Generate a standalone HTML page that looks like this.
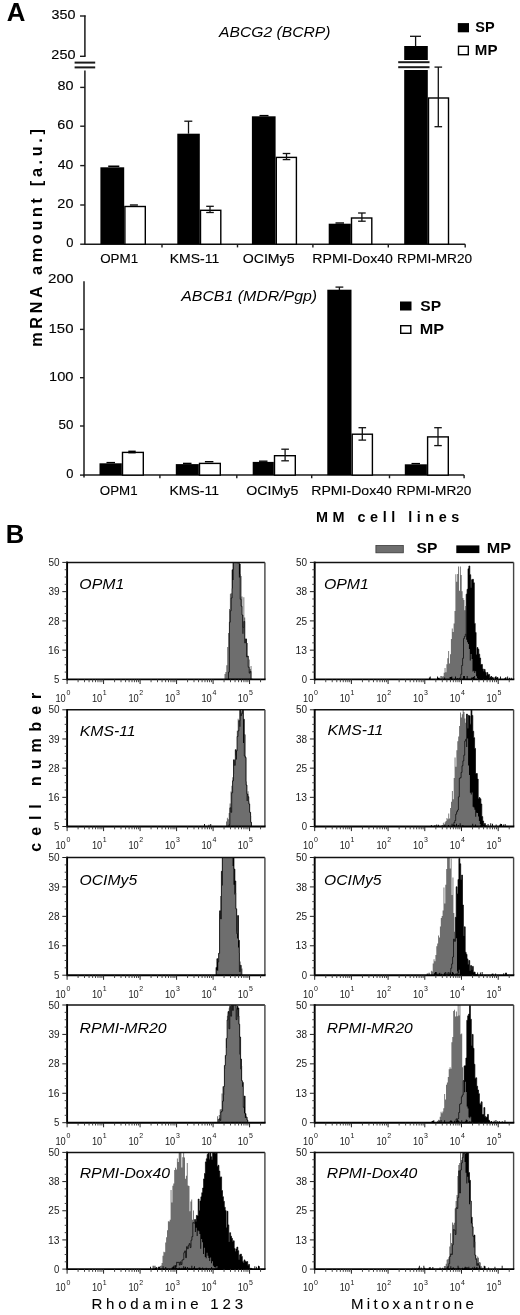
<!DOCTYPE html>
<html><head><meta charset="utf-8"><style>
html,body{margin:0;padding:0;background:#fff;}
svg{display:block;filter:grayscale(1);}
text{font-family:"Liberation Sans",sans-serif;}
</style></head><body>
<svg width="520" height="1315" viewBox="0 0 520 1315">
<rect width="520" height="1315" fill="#fff"/>
<text x="6.65" y="20.60" font-size="26" font-weight="bold" font-style="normal" textLength="18.65" lengthAdjust="spacingAndGlyphs" fill="#000" >A</text>
<line x1="84.90" y1="15.60" x2="84.90" y2="56.30" stroke="#1a1a1a" stroke-width="1.5" />
<line x1="80.00" y1="16.00" x2="85.60" y2="16.00" stroke="#1a1a1a" stroke-width="1.4" />
<line x1="80.00" y1="56.30" x2="85.60" y2="56.30" stroke="#1a1a1a" stroke-width="1.4" />
<line x1="74.60" y1="62.60" x2="95.20" y2="62.60" stroke="#1a1a1a" stroke-width="2.0" />
<line x1="74.60" y1="67.40" x2="95.20" y2="67.40" stroke="#1a1a1a" stroke-width="2.0" />
<line x1="84.90" y1="70.60" x2="84.90" y2="244.20" stroke="#1a1a1a" stroke-width="1.5" />
<line x1="80.20" y1="87.40" x2="84.90" y2="87.40" stroke="#1a1a1a" stroke-width="1.4" />
<line x1="80.20" y1="126.20" x2="84.90" y2="126.20" stroke="#1a1a1a" stroke-width="1.4" />
<line x1="80.20" y1="165.60" x2="84.90" y2="165.60" stroke="#1a1a1a" stroke-width="1.4" />
<line x1="80.20" y1="205.00" x2="84.90" y2="205.00" stroke="#1a1a1a" stroke-width="1.4" />
<line x1="80.20" y1="244.20" x2="84.90" y2="244.20" stroke="#1a1a1a" stroke-width="1.4" />
<line x1="84.20" y1="244.20" x2="465.20" y2="244.20" stroke="#1a1a1a" stroke-width="1.5" />
<line x1="162.00" y1="244.20" x2="162.00" y2="247.40" stroke="#1a1a1a" stroke-width="1.4" />
<line x1="237.50" y1="244.20" x2="237.50" y2="247.40" stroke="#1a1a1a" stroke-width="1.4" />
<line x1="312.90" y1="244.20" x2="312.90" y2="247.40" stroke="#1a1a1a" stroke-width="1.4" />
<line x1="388.30" y1="244.20" x2="388.30" y2="247.40" stroke="#1a1a1a" stroke-width="1.4" />
<line x1="465.20" y1="244.20" x2="465.20" y2="247.40" stroke="#1a1a1a" stroke-width="1.4" />
<text x="51.53" y="19.00" font-size="12.3" font-weight="normal" font-style="normal" textLength="23.93" lengthAdjust="spacingAndGlyphs" fill="#000" stroke="#000" stroke-width="0.12">350</text>
<text x="51.38" y="59.30" font-size="12.3" font-weight="normal" font-style="normal" textLength="24.08" lengthAdjust="spacingAndGlyphs" fill="#000" stroke="#000" stroke-width="0.12">250</text>
<text x="57.45" y="90.40" font-size="12.3" font-weight="normal" font-style="normal" textLength="15.98" lengthAdjust="spacingAndGlyphs" fill="#000" stroke="#000" stroke-width="0.12">80</text>
<text x="57.38" y="129.20" font-size="12.3" font-weight="normal" font-style="normal" textLength="16.06" lengthAdjust="spacingAndGlyphs" fill="#000" stroke="#000" stroke-width="0.12">60</text>
<text x="57.82" y="168.60" font-size="12.3" font-weight="normal" font-style="normal" textLength="15.60" lengthAdjust="spacingAndGlyphs" fill="#000" stroke="#000" stroke-width="0.12">40</text>
<text x="57.38" y="208.00" font-size="12.3" font-weight="normal" font-style="normal" textLength="16.06" lengthAdjust="spacingAndGlyphs" fill="#000" stroke="#000" stroke-width="0.12">20</text>
<text x="66.18" y="247.20" font-size="12.3" font-weight="normal" font-style="normal" textLength="7.18" lengthAdjust="spacingAndGlyphs" fill="#000" stroke="#000" stroke-width="0.12">0</text>
<text x="100.20" y="262.90" font-size="12.6" font-weight="normal" font-style="normal" textLength="37.89" lengthAdjust="spacingAndGlyphs" fill="#000" stroke="#000" stroke-width="0.12">OPM1</text>
<text x="169.68" y="262.90" font-size="12.6" font-weight="normal" font-style="normal" textLength="49.49" lengthAdjust="spacingAndGlyphs" fill="#000" stroke="#000" stroke-width="0.12">KMS-11</text>
<text x="242.66" y="262.90" font-size="12.6" font-weight="normal" font-style="normal" textLength="51.93" lengthAdjust="spacingAndGlyphs" fill="#000" stroke="#000" stroke-width="0.12">OCIMy5</text>
<text x="312.37" y="262.90" font-size="12.6" font-weight="normal" font-style="normal" textLength="80.50" lengthAdjust="spacingAndGlyphs" fill="#000" stroke="#000" stroke-width="0.12">RPMI-Dox40</text>
<text x="397.11" y="262.90" font-size="12.6" font-weight="normal" font-style="normal" textLength="74.98" lengthAdjust="spacingAndGlyphs" fill="#000" stroke="#000" stroke-width="0.12">RPMI-MR20</text>
<rect x="100.40" y="167.30" width="23.80" height="76.90" fill="#000" stroke="none" stroke-width="0"/>
<rect x="124.90" y="206.50" width="20.40" height="37.70" fill="#fff" stroke="#000" stroke-width="1.4"/>
<line x1="108.20" y1="166.30" x2="119.30" y2="166.30" stroke="#000" stroke-width="1.6" />
<line x1="129.90" y1="205.00" x2="137.90" y2="205.00" stroke="#111" stroke-width="1.4" />
<rect x="177.30" y="133.70" width="22.50" height="110.50" fill="#000" stroke="none" stroke-width="0"/>
<rect x="200.50" y="210.30" width="20.30" height="33.90" fill="#fff" stroke="#000" stroke-width="1.4"/>
<line x1="188.50" y1="121.20" x2="188.50" y2="133.70" stroke="#111" stroke-width="1.3" />
<line x1="184.30" y1="121.20" x2="192.30" y2="121.20" stroke="#111" stroke-width="1.3" />
<line x1="210.00" y1="206.30" x2="210.00" y2="212.50" stroke="#111" stroke-width="1.3" />
<line x1="206.20" y1="206.30" x2="213.80" y2="206.30" stroke="#111" stroke-width="1.3" />
<line x1="206.20" y1="212.50" x2="213.80" y2="212.50" stroke="#111" stroke-width="1.3" />
<rect x="251.90" y="116.30" width="23.70" height="127.90" fill="#000" stroke="none" stroke-width="0"/>
<rect x="276.30" y="157.40" width="20.10" height="86.80" fill="#fff" stroke="#000" stroke-width="1.4"/>
<line x1="259.50" y1="115.60" x2="268.50" y2="115.60" stroke="#000" stroke-width="1.4" />
<line x1="286.50" y1="153.50" x2="286.50" y2="159.60" stroke="#111" stroke-width="1.3" />
<line x1="282.70" y1="153.50" x2="290.30" y2="153.50" stroke="#111" stroke-width="1.3" />
<line x1="282.70" y1="159.60" x2="290.30" y2="159.60" stroke="#111" stroke-width="1.3" />
<rect x="328.70" y="223.70" width="22.10" height="20.50" fill="#000" stroke="none" stroke-width="0"/>
<rect x="351.50" y="218.00" width="20.30" height="26.20" fill="#fff" stroke="#000" stroke-width="1.4"/>
<line x1="335.50" y1="223.00" x2="344.00" y2="223.00" stroke="#000" stroke-width="1.4" />
<line x1="361.90" y1="213.00" x2="361.90" y2="221.20" stroke="#111" stroke-width="1.3" />
<line x1="358.10" y1="213.00" x2="365.70" y2="213.00" stroke="#111" stroke-width="1.3" />
<line x1="358.10" y1="221.20" x2="365.70" y2="221.20" stroke="#111" stroke-width="1.3" />
<rect x="404.20" y="46.00" width="23.60" height="14.00" fill="#000" stroke="none" stroke-width="0"/>
<rect x="404.20" y="70.00" width="23.60" height="174.20" fill="#000" stroke="none" stroke-width="0"/>
<line x1="398.20" y1="62.20" x2="429.50" y2="62.20" stroke="#1a1a1a" stroke-width="2.0" />
<line x1="398.20" y1="67.20" x2="429.50" y2="67.20" stroke="#1a1a1a" stroke-width="2.0" />
<line x1="415.60" y1="36.30" x2="415.60" y2="46.50" stroke="#111" stroke-width="1.3" />
<line x1="410.00" y1="36.30" x2="421.00" y2="36.30" stroke="#111" stroke-width="1.3" />
<rect x="428.50" y="98.00" width="20.00" height="146.20" fill="#fff" stroke="#000" stroke-width="1.4"/>
<line x1="438.30" y1="67.10" x2="438.30" y2="126.70" stroke="#111" stroke-width="1.3" />
<line x1="434.50" y1="67.10" x2="442.10" y2="67.10" stroke="#111" stroke-width="1.3" />
<line x1="434.50" y1="126.70" x2="442.10" y2="126.70" stroke="#111" stroke-width="1.3" />
<text x="219.08" y="36.60" font-size="14.6" font-weight="normal" font-style="italic" textLength="111.32" lengthAdjust="spacingAndGlyphs" fill="#000" >ABCG2 (BCRP)</text>
<rect x="457.80" y="23.10" width="11.20" height="9.20" fill="#000" stroke="none" stroke-width="0"/>
<rect x="458.50" y="46.30" width="9.80" height="8.40" fill="#fff" stroke="#000" stroke-width="1.4"/>
<text x="475.37" y="32.30" font-size="14" font-weight="bold" font-style="normal" textLength="19.33" lengthAdjust="spacingAndGlyphs" fill="#000" >SP</text>
<text x="474.82" y="55.40" font-size="14" font-weight="bold" font-style="normal" textLength="22.63" lengthAdjust="spacingAndGlyphs" fill="#000" >MP</text>
<line x1="84.00" y1="281.20" x2="84.00" y2="477.50" stroke="#1a1a1a" stroke-width="1.5" />
<line x1="80.00" y1="329.40" x2="84.00" y2="329.40" stroke="#1a1a1a" stroke-width="1.4" />
<line x1="80.00" y1="377.70" x2="84.00" y2="377.70" stroke="#1a1a1a" stroke-width="1.4" />
<line x1="80.00" y1="426.00" x2="84.00" y2="426.00" stroke="#1a1a1a" stroke-width="1.4" />
<line x1="80.00" y1="475.10" x2="84.00" y2="475.10" stroke="#1a1a1a" stroke-width="1.4" />
<line x1="83.30" y1="475.10" x2="464.10" y2="475.10" stroke="#1a1a1a" stroke-width="1.5" />
<line x1="159.90" y1="475.10" x2="159.90" y2="478.30" stroke="#1a1a1a" stroke-width="1.4" />
<line x1="236.80" y1="475.10" x2="236.80" y2="478.30" stroke="#1a1a1a" stroke-width="1.4" />
<line x1="311.70" y1="475.10" x2="311.70" y2="478.30" stroke="#1a1a1a" stroke-width="1.4" />
<line x1="389.50" y1="475.10" x2="389.50" y2="478.30" stroke="#1a1a1a" stroke-width="1.4" />
<line x1="464.10" y1="475.10" x2="464.10" y2="478.30" stroke="#1a1a1a" stroke-width="1.4" />
<text x="48.14" y="283.40" font-size="12.3" font-weight="normal" font-style="normal" textLength="25.34" lengthAdjust="spacingAndGlyphs" fill="#000" stroke="#000" stroke-width="0.12">200</text>
<text x="48.58" y="332.50" font-size="12.3" font-weight="normal" font-style="normal" textLength="24.89" lengthAdjust="spacingAndGlyphs" fill="#000" stroke="#000" stroke-width="0.12">150</text>
<text x="49.00" y="380.80" font-size="12.3" font-weight="normal" font-style="normal" textLength="24.46" lengthAdjust="spacingAndGlyphs" fill="#000" stroke="#000" stroke-width="0.12">100</text>
<text x="58.57" y="429.10" font-size="12.3" font-weight="normal" font-style="normal" textLength="14.83" lengthAdjust="spacingAndGlyphs" fill="#000" stroke="#000" stroke-width="0.12">50</text>
<text x="66.18" y="478.20" font-size="12.3" font-weight="normal" font-style="normal" textLength="7.18" lengthAdjust="spacingAndGlyphs" fill="#000" stroke="#000" stroke-width="0.12">0</text>
<text x="99.80" y="494.60" font-size="12.6" font-weight="normal" font-style="normal" textLength="37.79" lengthAdjust="spacingAndGlyphs" fill="#000" stroke="#000" stroke-width="0.12">OPM1</text>
<text x="169.48" y="494.60" font-size="12.6" font-weight="normal" font-style="normal" textLength="49.49" lengthAdjust="spacingAndGlyphs" fill="#000" stroke="#000" stroke-width="0.12">KMS-11</text>
<text x="246.36" y="494.60" font-size="12.6" font-weight="normal" font-style="normal" textLength="51.93" lengthAdjust="spacingAndGlyphs" fill="#000" stroke="#000" stroke-width="0.12">OCIMy5</text>
<text x="311.27" y="494.60" font-size="12.6" font-weight="normal" font-style="normal" textLength="80.60" lengthAdjust="spacingAndGlyphs" fill="#000" stroke="#000" stroke-width="0.12">RPMI-Dox40</text>
<text x="396.61" y="494.60" font-size="12.6" font-weight="normal" font-style="normal" textLength="74.77" lengthAdjust="spacingAndGlyphs" fill="#000" stroke="#000" stroke-width="0.12">RPMI-MR20</text>
<rect x="99.50" y="463.30" width="22.30" height="11.80" fill="#000" stroke="none" stroke-width="0"/>
<rect x="122.50" y="452.40" width="20.80" height="22.70" fill="#fff" stroke="#000" stroke-width="1.4"/>
<line x1="106.50" y1="462.60" x2="115.00" y2="462.60" stroke="#000" stroke-width="1.4" />
<rect x="128.30" y="450.60" width="7.40" height="2.80" fill="#000" stroke="none" stroke-width="0"/>
<rect x="175.80" y="464.10" width="23.00" height="11.00" fill="#000" stroke="none" stroke-width="0"/>
<rect x="199.50" y="463.40" width="20.80" height="11.70" fill="#fff" stroke="#000" stroke-width="1.4"/>
<line x1="183.00" y1="463.40" x2="191.50" y2="463.40" stroke="#000" stroke-width="1.4" />
<line x1="204.90" y1="461.70" x2="213.40" y2="461.70" stroke="#000" stroke-width="1.4" />
<rect x="252.70" y="461.90" width="21.10" height="13.20" fill="#000" stroke="none" stroke-width="0"/>
<rect x="274.50" y="455.70" width="20.80" height="19.40" fill="#fff" stroke="#000" stroke-width="1.4"/>
<line x1="259.00" y1="461.20" x2="267.50" y2="461.20" stroke="#000" stroke-width="1.4" />
<line x1="285.10" y1="449.20" x2="285.10" y2="460.80" stroke="#111" stroke-width="1.3" />
<line x1="281.30" y1="449.20" x2="288.90" y2="449.20" stroke="#111" stroke-width="1.3" />
<line x1="281.30" y1="460.80" x2="288.90" y2="460.80" stroke="#111" stroke-width="1.3" />
<rect x="327.30" y="289.70" width="24.20" height="185.40" fill="#000" stroke="none" stroke-width="0"/>
<rect x="352.20" y="434.20" width="20.20" height="40.90" fill="#fff" stroke="#000" stroke-width="1.4"/>
<line x1="339.40" y1="287.10" x2="339.40" y2="290.00" stroke="#111" stroke-width="1.3" />
<line x1="335.50" y1="287.10" x2="343.30" y2="287.10" stroke="#111" stroke-width="1.3" />
<line x1="362.30" y1="427.70" x2="362.30" y2="440.10" stroke="#111" stroke-width="1.3" />
<line x1="358.50" y1="427.70" x2="366.10" y2="427.70" stroke="#111" stroke-width="1.3" />
<line x1="358.50" y1="440.10" x2="366.10" y2="440.10" stroke="#111" stroke-width="1.3" />
<rect x="404.80" y="464.30" width="22.10" height="10.80" fill="#000" stroke="none" stroke-width="0"/>
<rect x="427.60" y="436.90" width="20.70" height="38.20" fill="#fff" stroke="#000" stroke-width="1.4"/>
<line x1="411.50" y1="463.60" x2="420.00" y2="463.60" stroke="#000" stroke-width="1.4" />
<line x1="438.00" y1="427.70" x2="438.00" y2="445.60" stroke="#111" stroke-width="1.3" />
<line x1="434.20" y1="427.70" x2="441.80" y2="427.70" stroke="#111" stroke-width="1.3" />
<line x1="434.20" y1="445.60" x2="441.80" y2="445.60" stroke="#111" stroke-width="1.3" />
<text x="181.19" y="300.80" font-size="14.6" font-weight="normal" font-style="italic" textLength="135.93" lengthAdjust="spacingAndGlyphs" fill="#000" >ABCB1 (MDR/Pgp)</text>
<rect x="400.00" y="301.50" width="11.50" height="9.00" fill="#000" stroke="none" stroke-width="0"/>
<rect x="400.70" y="325.70" width="10.10" height="7.60" fill="#fff" stroke="#000" stroke-width="1.4"/>
<text x="420.33" y="310.80" font-size="14" font-weight="bold" font-style="normal" textLength="20.80" lengthAdjust="spacingAndGlyphs" fill="#000" >SP</text>
<text x="419.75" y="334.40" font-size="14" font-weight="bold" font-style="normal" textLength="24.34" lengthAdjust="spacingAndGlyphs" fill="#000" >MP</text>
<text transform="translate(41.80,346.85) rotate(-90)" x="0" y="0" font-size="16.2" font-weight="bold" font-style="normal" textLength="217.81" lengthAdjust="spacing" fill="#000">mRNA amount [a.u.]</text>
<text x="315.96" y="522.40" font-size="14.4" font-weight="bold" font-style="normal" textLength="143.26" lengthAdjust="spacing" fill="#000" >MM cell lines</text>
<text x="5.84" y="543.10" font-size="26" font-weight="bold" font-style="normal" textLength="18.47" lengthAdjust="spacingAndGlyphs" fill="#000" >B</text>
<rect x="375.9" y="545.5" width="27.4" height="7.3" fill="#6e6e6e" stroke="#3a3a3a" stroke-width="0.8"/>
<text x="416.53" y="553.30" font-size="14" font-weight="bold" font-style="normal" textLength="20.80" lengthAdjust="spacingAndGlyphs" fill="#000" >SP</text>
<rect x="456.30" y="545.40" width="23.10" height="7.70" fill="#000" stroke="none" stroke-width="0"/>
<text x="486.75" y="553.40" font-size="14" font-weight="bold" font-style="normal" textLength="24.34" lengthAdjust="spacingAndGlyphs" fill="#000" >MP</text>
<clipPath id="cL0"><rect x="67.1" y="562.4" width="197.79999999999998" height="117.0"/></clipPath>
<g clip-path="url(#cL0)">
<path d="M228.5,679.4V672.1H229.4V622.2H230.3V610.8H231.2V598.0H232.1V569.8H233.0V560.4H233.9V560.4H234.8V560.4H235.7V560.4H236.6V560.4H237.5V562.9H238.4V560.4H239.3V564.0H240.2V599.2H241.1V606.2H242.0V615.0H242.9V627.4H243.8V621.5H244.7V642.9H245.6V638.9H246.5V656.9H247.4V656.1H248.3V667.3H249.2V673.1H250.1V671.3H251.0V679.4Z" fill="#000"/>
<path d="M224.5,679.4V673.9H225.4V672.1H226.3V665.3H227.2V647.0H228.1V633.1H229.0V608.9H229.9V593.7H230.8V593.2H231.7V588.4H232.6V579.9H233.5V560.4H234.4V560.4H235.3V560.4H236.2V560.4H237.1V560.4H238.0V560.4H238.9V577.5H239.8V574.2H240.7V575.9H241.6V596.6H242.5V633.7H243.4V597.3H244.3V617.5H245.2V638.7H246.1V653.4H247.0V643.0H247.9V666.5H248.8V659.5H249.7V669.1H250.6V666.0H251.5V678.5H252.4V679.4H253.3V679.4Z" fill="#6e6e6e"/>
<path d="M228.5,679.4V672.1H229.4V622.2H230.3V610.8H231.2V598.0H232.1V569.8H233.0V560.4H233.9V560.4H234.8V560.4H235.7V560.4H236.6V560.4H237.5V562.9H238.4V560.4H239.3V564.0H240.2V599.2H241.1V606.2H242.0V615.0H242.9V627.4H243.8V621.5H244.7V642.9H245.6V638.9H246.5V656.9H247.4V656.1H248.3V667.3H249.2V673.1H250.1V671.3H251.0V679.4Z" fill="none" stroke="#000" stroke-width="0.7"/>
</g>
<line x1="66.15" y1="562.40" x2="264.90" y2="562.40" stroke="#111" stroke-width="1.5" />
<line x1="264.90" y1="562.40" x2="264.90" y2="679.40" stroke="#444" stroke-width="1.4" />
<line x1="67.10" y1="561.65" x2="67.10" y2="680.35" stroke="#000" stroke-width="1.9" />
<line x1="67.10" y1="679.40" x2="265.60" y2="679.40" stroke="#000" stroke-width="1.9" />
<line x1="62.30" y1="562.40" x2="67.10" y2="562.40" stroke="#222" stroke-width="1.0" />
<text x="48.40" y="566.00" font-size="10.8" font-weight="normal" font-style="normal" textLength="11.07" lengthAdjust="spacingAndGlyphs" fill="#1a1a1a" >50</text>
<line x1="64.70" y1="569.71" x2="67.10" y2="569.71" stroke="#333" stroke-width="0.9" />
<line x1="64.70" y1="577.02" x2="67.10" y2="577.02" stroke="#333" stroke-width="0.9" />
<line x1="64.70" y1="584.34" x2="67.10" y2="584.34" stroke="#333" stroke-width="0.9" />
<line x1="62.30" y1="591.65" x2="67.10" y2="591.65" stroke="#222" stroke-width="1.0" />
<text x="48.40" y="595.25" font-size="10.8" font-weight="normal" font-style="normal" textLength="11.18" lengthAdjust="spacingAndGlyphs" fill="#1a1a1a" >39</text>
<line x1="64.70" y1="598.96" x2="67.10" y2="598.96" stroke="#333" stroke-width="0.9" />
<line x1="64.70" y1="606.27" x2="67.10" y2="606.27" stroke="#333" stroke-width="0.9" />
<line x1="64.70" y1="613.59" x2="67.10" y2="613.59" stroke="#333" stroke-width="0.9" />
<line x1="62.30" y1="620.90" x2="67.10" y2="620.90" stroke="#222" stroke-width="1.0" />
<text x="48.30" y="624.50" font-size="10.8" font-weight="normal" font-style="normal" textLength="11.23" lengthAdjust="spacingAndGlyphs" fill="#1a1a1a" >28</text>
<line x1="64.70" y1="628.21" x2="67.10" y2="628.21" stroke="#333" stroke-width="0.9" />
<line x1="64.70" y1="635.52" x2="67.10" y2="635.52" stroke="#333" stroke-width="0.9" />
<line x1="64.70" y1="642.84" x2="67.10" y2="642.84" stroke="#333" stroke-width="0.9" />
<line x1="62.30" y1="650.15" x2="67.10" y2="650.15" stroke="#222" stroke-width="1.0" />
<text x="48.02" y="653.75" font-size="10.8" font-weight="normal" font-style="normal" textLength="11.51" lengthAdjust="spacingAndGlyphs" fill="#1a1a1a" >16</text>
<line x1="64.70" y1="657.46" x2="67.10" y2="657.46" stroke="#333" stroke-width="0.9" />
<line x1="64.70" y1="664.77" x2="67.10" y2="664.77" stroke="#333" stroke-width="0.9" />
<line x1="64.70" y1="672.09" x2="67.10" y2="672.09" stroke="#333" stroke-width="0.9" />
<line x1="62.30" y1="679.40" x2="67.10" y2="679.40" stroke="#222" stroke-width="1.0" />
<text x="54.11" y="683.00" font-size="10.8" font-weight="normal" font-style="normal" textLength="5.39" lengthAdjust="spacingAndGlyphs" fill="#1a1a1a" >5</text>
<line x1="67.10" y1="679.40" x2="67.10" y2="684.00" stroke="#222" stroke-width="1.0" />
<text x="55.40" y="701.70" font-size="11.2" font-weight="normal" font-style="normal" textLength="10.34" lengthAdjust="spacingAndGlyphs" fill="#1a1a1a" >10</text>
<text x="66.42" y="695.00" font-size="7.8" font-weight="normal" font-style="normal" textLength="3.90" lengthAdjust="spacingAndGlyphs" fill="#1a1a1a" >0</text>
<line x1="78.09" y1="679.40" x2="78.09" y2="682.20" stroke="#333" stroke-width="0.9" />
<line x1="84.51" y1="679.40" x2="84.51" y2="682.20" stroke="#333" stroke-width="0.9" />
<line x1="89.07" y1="679.40" x2="89.07" y2="682.20" stroke="#333" stroke-width="0.9" />
<line x1="92.61" y1="679.40" x2="92.61" y2="682.20" stroke="#333" stroke-width="0.9" />
<line x1="95.50" y1="679.40" x2="95.50" y2="682.20" stroke="#333" stroke-width="0.9" />
<line x1="97.94" y1="679.40" x2="97.94" y2="682.20" stroke="#333" stroke-width="0.9" />
<line x1="100.06" y1="679.40" x2="100.06" y2="682.20" stroke="#333" stroke-width="0.9" />
<line x1="101.92" y1="679.40" x2="101.92" y2="682.20" stroke="#333" stroke-width="0.9" />
<line x1="103.59" y1="679.40" x2="103.59" y2="684.00" stroke="#222" stroke-width="1.0" />
<text x="91.90" y="701.70" font-size="11.2" font-weight="normal" font-style="normal" textLength="10.34" lengthAdjust="spacingAndGlyphs" fill="#1a1a1a" >10</text>
<text x="102.67" y="695.00" font-size="7.8" font-weight="normal" font-style="normal" textLength="3.90" lengthAdjust="spacingAndGlyphs" fill="#1a1a1a" >1</text>
<line x1="114.58" y1="679.40" x2="114.58" y2="682.20" stroke="#333" stroke-width="0.9" />
<line x1="121.01" y1="679.40" x2="121.01" y2="682.20" stroke="#333" stroke-width="0.9" />
<line x1="125.57" y1="679.40" x2="125.57" y2="682.20" stroke="#333" stroke-width="0.9" />
<line x1="129.10" y1="679.40" x2="129.10" y2="682.20" stroke="#333" stroke-width="0.9" />
<line x1="131.99" y1="679.40" x2="131.99" y2="682.20" stroke="#333" stroke-width="0.9" />
<line x1="134.44" y1="679.40" x2="134.44" y2="682.20" stroke="#333" stroke-width="0.9" />
<line x1="136.55" y1="679.40" x2="136.55" y2="682.20" stroke="#333" stroke-width="0.9" />
<line x1="138.42" y1="679.40" x2="138.42" y2="682.20" stroke="#333" stroke-width="0.9" />
<line x1="140.09" y1="679.40" x2="140.09" y2="684.00" stroke="#222" stroke-width="1.0" />
<text x="128.39" y="701.70" font-size="11.2" font-weight="normal" font-style="normal" textLength="10.34" lengthAdjust="spacingAndGlyphs" fill="#1a1a1a" >10</text>
<text x="139.34" y="695.00" font-size="7.8" font-weight="normal" font-style="normal" textLength="3.90" lengthAdjust="spacingAndGlyphs" fill="#1a1a1a" >2</text>
<line x1="151.07" y1="679.40" x2="151.07" y2="682.20" stroke="#333" stroke-width="0.9" />
<line x1="157.50" y1="679.40" x2="157.50" y2="682.20" stroke="#333" stroke-width="0.9" />
<line x1="162.06" y1="679.40" x2="162.06" y2="682.20" stroke="#333" stroke-width="0.9" />
<line x1="165.60" y1="679.40" x2="165.60" y2="682.20" stroke="#333" stroke-width="0.9" />
<line x1="168.49" y1="679.40" x2="168.49" y2="682.20" stroke="#333" stroke-width="0.9" />
<line x1="170.93" y1="679.40" x2="170.93" y2="682.20" stroke="#333" stroke-width="0.9" />
<line x1="173.05" y1="679.40" x2="173.05" y2="682.20" stroke="#333" stroke-width="0.9" />
<line x1="174.91" y1="679.40" x2="174.91" y2="682.20" stroke="#333" stroke-width="0.9" />
<line x1="176.58" y1="679.40" x2="176.58" y2="684.00" stroke="#222" stroke-width="1.0" />
<text x="164.89" y="701.70" font-size="11.2" font-weight="normal" font-style="normal" textLength="10.34" lengthAdjust="spacingAndGlyphs" fill="#1a1a1a" >10</text>
<text x="175.90" y="695.00" font-size="7.8" font-weight="normal" font-style="normal" textLength="3.90" lengthAdjust="spacingAndGlyphs" fill="#1a1a1a" >3</text>
<line x1="187.57" y1="679.40" x2="187.57" y2="682.20" stroke="#333" stroke-width="0.9" />
<line x1="194.00" y1="679.40" x2="194.00" y2="682.20" stroke="#333" stroke-width="0.9" />
<line x1="198.56" y1="679.40" x2="198.56" y2="682.20" stroke="#333" stroke-width="0.9" />
<line x1="202.09" y1="679.40" x2="202.09" y2="682.20" stroke="#333" stroke-width="0.9" />
<line x1="204.98" y1="679.40" x2="204.98" y2="682.20" stroke="#333" stroke-width="0.9" />
<line x1="207.42" y1="679.40" x2="207.42" y2="682.20" stroke="#333" stroke-width="0.9" />
<line x1="209.54" y1="679.40" x2="209.54" y2="682.20" stroke="#333" stroke-width="0.9" />
<line x1="211.41" y1="679.40" x2="211.41" y2="682.20" stroke="#333" stroke-width="0.9" />
<line x1="213.08" y1="679.40" x2="213.08" y2="684.00" stroke="#222" stroke-width="1.0" />
<text x="201.38" y="701.70" font-size="11.2" font-weight="normal" font-style="normal" textLength="10.34" lengthAdjust="spacingAndGlyphs" fill="#1a1a1a" >10</text>
<text x="212.54" y="695.00" font-size="7.8" font-weight="normal" font-style="normal" textLength="3.90" lengthAdjust="spacingAndGlyphs" fill="#1a1a1a" >4</text>
<line x1="224.06" y1="679.40" x2="224.06" y2="682.20" stroke="#333" stroke-width="0.9" />
<line x1="230.49" y1="679.40" x2="230.49" y2="682.20" stroke="#333" stroke-width="0.9" />
<line x1="235.05" y1="679.40" x2="235.05" y2="682.20" stroke="#333" stroke-width="0.9" />
<line x1="238.59" y1="679.40" x2="238.59" y2="682.20" stroke="#333" stroke-width="0.9" />
<line x1="241.48" y1="679.40" x2="241.48" y2="682.20" stroke="#333" stroke-width="0.9" />
<line x1="243.92" y1="679.40" x2="243.92" y2="682.20" stroke="#333" stroke-width="0.9" />
<line x1="246.04" y1="679.40" x2="246.04" y2="682.20" stroke="#333" stroke-width="0.9" />
<line x1="247.90" y1="679.40" x2="247.90" y2="682.20" stroke="#333" stroke-width="0.9" />
<line x1="249.57" y1="679.40" x2="249.57" y2="684.00" stroke="#222" stroke-width="1.0" />
<text x="237.87" y="701.70" font-size="11.2" font-weight="normal" font-style="normal" textLength="10.34" lengthAdjust="spacingAndGlyphs" fill="#1a1a1a" >10</text>
<text x="248.89" y="695.00" font-size="7.8" font-weight="normal" font-style="normal" textLength="3.90" lengthAdjust="spacingAndGlyphs" fill="#1a1a1a" >5</text>
<line x1="260.56" y1="679.40" x2="260.56" y2="682.20" stroke="#333" stroke-width="0.9" />
<text x="79.33" y="589.40" font-size="15" font-weight="normal" font-style="italic" textLength="44.90" lengthAdjust="spacingAndGlyphs" fill="#000" >OPM1</text>
<clipPath id="cL1"><rect x="67.1" y="709.8" width="197.79999999999998" height="116.70000000000005"/></clipPath>
<g clip-path="url(#cL1)">
<path d="M229.0,826.5V824.8H229.9V807.8H230.8V812.3H231.7V792.8H232.6V780.8H233.5V759.8H234.4V765.3H235.3V749.7H236.2V751.0H237.1V736.5H238.0V730.8H238.9V720.8H239.8V707.8H240.7V715.6H241.6V713.6H242.5V707.8H243.4V719.2H244.3V756.0H245.2V757.5H246.1V785.1H247.0V794.1H247.9V796.7H248.8V803.9H249.7V812.3H250.6V822.3H251.5V826.5Z" fill="#000"/>
<path d="M226.0,826.5V821.5H226.9V817.7H227.8V819.3H228.7V813.0H229.6V803.6H230.5V791.4H231.4V785.7H232.3V777.3H233.2V774.1H234.1V761.2H235.0V755.5H235.9V759.5H236.8V730.8H237.7V718.8H238.6V720.1H239.5V726.8H240.4V710.4H241.3V711.2H242.2V712.6H243.1V742.9H244.0V734.0H244.9V734.5H245.8V781.5H246.7V801.1H247.6V791.2H248.5V801.4H249.4V812.2H250.3V816.0H251.2V825.5H252.1V826.5Z" fill="#6e6e6e"/>
<path d="M229.0,826.5V824.8H229.9V807.8H230.8V812.3H231.7V792.8H232.6V780.8H233.5V759.8H234.4V765.3H235.3V749.7H236.2V751.0H237.1V736.5H238.0V730.8H238.9V720.8H239.8V707.8H240.7V715.6H241.6V713.6H242.5V707.8H243.4V719.2H244.3V756.0H245.2V757.5H246.1V785.1H247.0V794.1H247.9V796.7H248.8V803.9H249.7V812.3H250.6V822.3H251.5V826.5Z" fill="none" stroke="#000" stroke-width="0.7"/>
<path d="M204.0,826.5h0.9v-2.4h-0.9zM208.5,826.5h0.9v-1.7h-0.9zM210.3,826.5h0.9v-2.4h-0.9z" fill="#000"/>
</g>
<line x1="66.15" y1="709.80" x2="264.90" y2="709.80" stroke="#111" stroke-width="1.5" />
<line x1="264.90" y1="709.80" x2="264.90" y2="826.50" stroke="#444" stroke-width="1.4" />
<line x1="67.10" y1="709.05" x2="67.10" y2="827.45" stroke="#000" stroke-width="1.9" />
<line x1="67.10" y1="826.50" x2="265.60" y2="826.50" stroke="#000" stroke-width="1.9" />
<line x1="62.30" y1="709.80" x2="67.10" y2="709.80" stroke="#222" stroke-width="1.0" />
<text x="48.40" y="713.40" font-size="10.8" font-weight="normal" font-style="normal" textLength="11.07" lengthAdjust="spacingAndGlyphs" fill="#1a1a1a" >50</text>
<line x1="64.70" y1="717.09" x2="67.10" y2="717.09" stroke="#333" stroke-width="0.9" />
<line x1="64.70" y1="724.39" x2="67.10" y2="724.39" stroke="#333" stroke-width="0.9" />
<line x1="64.70" y1="731.68" x2="67.10" y2="731.68" stroke="#333" stroke-width="0.9" />
<line x1="62.30" y1="738.97" x2="67.10" y2="738.97" stroke="#222" stroke-width="1.0" />
<text x="48.40" y="742.57" font-size="10.8" font-weight="normal" font-style="normal" textLength="11.18" lengthAdjust="spacingAndGlyphs" fill="#1a1a1a" >39</text>
<line x1="64.70" y1="746.27" x2="67.10" y2="746.27" stroke="#333" stroke-width="0.9" />
<line x1="64.70" y1="753.56" x2="67.10" y2="753.56" stroke="#333" stroke-width="0.9" />
<line x1="64.70" y1="760.86" x2="67.10" y2="760.86" stroke="#333" stroke-width="0.9" />
<line x1="62.30" y1="768.15" x2="67.10" y2="768.15" stroke="#222" stroke-width="1.0" />
<text x="48.30" y="771.75" font-size="10.8" font-weight="normal" font-style="normal" textLength="11.23" lengthAdjust="spacingAndGlyphs" fill="#1a1a1a" >28</text>
<line x1="64.70" y1="775.44" x2="67.10" y2="775.44" stroke="#333" stroke-width="0.9" />
<line x1="64.70" y1="782.74" x2="67.10" y2="782.74" stroke="#333" stroke-width="0.9" />
<line x1="64.70" y1="790.03" x2="67.10" y2="790.03" stroke="#333" stroke-width="0.9" />
<line x1="62.30" y1="797.33" x2="67.10" y2="797.33" stroke="#222" stroke-width="1.0" />
<text x="48.02" y="800.93" font-size="10.8" font-weight="normal" font-style="normal" textLength="11.51" lengthAdjust="spacingAndGlyphs" fill="#1a1a1a" >16</text>
<line x1="64.70" y1="804.62" x2="67.10" y2="804.62" stroke="#333" stroke-width="0.9" />
<line x1="64.70" y1="811.91" x2="67.10" y2="811.91" stroke="#333" stroke-width="0.9" />
<line x1="64.70" y1="819.21" x2="67.10" y2="819.21" stroke="#333" stroke-width="0.9" />
<line x1="62.30" y1="826.50" x2="67.10" y2="826.50" stroke="#222" stroke-width="1.0" />
<text x="54.11" y="830.10" font-size="10.8" font-weight="normal" font-style="normal" textLength="5.39" lengthAdjust="spacingAndGlyphs" fill="#1a1a1a" >5</text>
<line x1="67.10" y1="826.50" x2="67.10" y2="831.10" stroke="#222" stroke-width="1.0" />
<text x="55.40" y="848.80" font-size="11.2" font-weight="normal" font-style="normal" textLength="10.34" lengthAdjust="spacingAndGlyphs" fill="#1a1a1a" >10</text>
<text x="66.42" y="842.10" font-size="7.8" font-weight="normal" font-style="normal" textLength="3.90" lengthAdjust="spacingAndGlyphs" fill="#1a1a1a" >0</text>
<line x1="78.09" y1="826.50" x2="78.09" y2="829.30" stroke="#333" stroke-width="0.9" />
<line x1="84.51" y1="826.50" x2="84.51" y2="829.30" stroke="#333" stroke-width="0.9" />
<line x1="89.07" y1="826.50" x2="89.07" y2="829.30" stroke="#333" stroke-width="0.9" />
<line x1="92.61" y1="826.50" x2="92.61" y2="829.30" stroke="#333" stroke-width="0.9" />
<line x1="95.50" y1="826.50" x2="95.50" y2="829.30" stroke="#333" stroke-width="0.9" />
<line x1="97.94" y1="826.50" x2="97.94" y2="829.30" stroke="#333" stroke-width="0.9" />
<line x1="100.06" y1="826.50" x2="100.06" y2="829.30" stroke="#333" stroke-width="0.9" />
<line x1="101.92" y1="826.50" x2="101.92" y2="829.30" stroke="#333" stroke-width="0.9" />
<line x1="103.59" y1="826.50" x2="103.59" y2="831.10" stroke="#222" stroke-width="1.0" />
<text x="91.90" y="848.80" font-size="11.2" font-weight="normal" font-style="normal" textLength="10.34" lengthAdjust="spacingAndGlyphs" fill="#1a1a1a" >10</text>
<text x="102.67" y="842.10" font-size="7.8" font-weight="normal" font-style="normal" textLength="3.90" lengthAdjust="spacingAndGlyphs" fill="#1a1a1a" >1</text>
<line x1="114.58" y1="826.50" x2="114.58" y2="829.30" stroke="#333" stroke-width="0.9" />
<line x1="121.01" y1="826.50" x2="121.01" y2="829.30" stroke="#333" stroke-width="0.9" />
<line x1="125.57" y1="826.50" x2="125.57" y2="829.30" stroke="#333" stroke-width="0.9" />
<line x1="129.10" y1="826.50" x2="129.10" y2="829.30" stroke="#333" stroke-width="0.9" />
<line x1="131.99" y1="826.50" x2="131.99" y2="829.30" stroke="#333" stroke-width="0.9" />
<line x1="134.44" y1="826.50" x2="134.44" y2="829.30" stroke="#333" stroke-width="0.9" />
<line x1="136.55" y1="826.50" x2="136.55" y2="829.30" stroke="#333" stroke-width="0.9" />
<line x1="138.42" y1="826.50" x2="138.42" y2="829.30" stroke="#333" stroke-width="0.9" />
<line x1="140.09" y1="826.50" x2="140.09" y2="831.10" stroke="#222" stroke-width="1.0" />
<text x="128.39" y="848.80" font-size="11.2" font-weight="normal" font-style="normal" textLength="10.34" lengthAdjust="spacingAndGlyphs" fill="#1a1a1a" >10</text>
<text x="139.34" y="842.10" font-size="7.8" font-weight="normal" font-style="normal" textLength="3.90" lengthAdjust="spacingAndGlyphs" fill="#1a1a1a" >2</text>
<line x1="151.07" y1="826.50" x2="151.07" y2="829.30" stroke="#333" stroke-width="0.9" />
<line x1="157.50" y1="826.50" x2="157.50" y2="829.30" stroke="#333" stroke-width="0.9" />
<line x1="162.06" y1="826.50" x2="162.06" y2="829.30" stroke="#333" stroke-width="0.9" />
<line x1="165.60" y1="826.50" x2="165.60" y2="829.30" stroke="#333" stroke-width="0.9" />
<line x1="168.49" y1="826.50" x2="168.49" y2="829.30" stroke="#333" stroke-width="0.9" />
<line x1="170.93" y1="826.50" x2="170.93" y2="829.30" stroke="#333" stroke-width="0.9" />
<line x1="173.05" y1="826.50" x2="173.05" y2="829.30" stroke="#333" stroke-width="0.9" />
<line x1="174.91" y1="826.50" x2="174.91" y2="829.30" stroke="#333" stroke-width="0.9" />
<line x1="176.58" y1="826.50" x2="176.58" y2="831.10" stroke="#222" stroke-width="1.0" />
<text x="164.89" y="848.80" font-size="11.2" font-weight="normal" font-style="normal" textLength="10.34" lengthAdjust="spacingAndGlyphs" fill="#1a1a1a" >10</text>
<text x="175.90" y="842.10" font-size="7.8" font-weight="normal" font-style="normal" textLength="3.90" lengthAdjust="spacingAndGlyphs" fill="#1a1a1a" >3</text>
<line x1="187.57" y1="826.50" x2="187.57" y2="829.30" stroke="#333" stroke-width="0.9" />
<line x1="194.00" y1="826.50" x2="194.00" y2="829.30" stroke="#333" stroke-width="0.9" />
<line x1="198.56" y1="826.50" x2="198.56" y2="829.30" stroke="#333" stroke-width="0.9" />
<line x1="202.09" y1="826.50" x2="202.09" y2="829.30" stroke="#333" stroke-width="0.9" />
<line x1="204.98" y1="826.50" x2="204.98" y2="829.30" stroke="#333" stroke-width="0.9" />
<line x1="207.42" y1="826.50" x2="207.42" y2="829.30" stroke="#333" stroke-width="0.9" />
<line x1="209.54" y1="826.50" x2="209.54" y2="829.30" stroke="#333" stroke-width="0.9" />
<line x1="211.41" y1="826.50" x2="211.41" y2="829.30" stroke="#333" stroke-width="0.9" />
<line x1="213.08" y1="826.50" x2="213.08" y2="831.10" stroke="#222" stroke-width="1.0" />
<text x="201.38" y="848.80" font-size="11.2" font-weight="normal" font-style="normal" textLength="10.34" lengthAdjust="spacingAndGlyphs" fill="#1a1a1a" >10</text>
<text x="212.54" y="842.10" font-size="7.8" font-weight="normal" font-style="normal" textLength="3.90" lengthAdjust="spacingAndGlyphs" fill="#1a1a1a" >4</text>
<line x1="224.06" y1="826.50" x2="224.06" y2="829.30" stroke="#333" stroke-width="0.9" />
<line x1="230.49" y1="826.50" x2="230.49" y2="829.30" stroke="#333" stroke-width="0.9" />
<line x1="235.05" y1="826.50" x2="235.05" y2="829.30" stroke="#333" stroke-width="0.9" />
<line x1="238.59" y1="826.50" x2="238.59" y2="829.30" stroke="#333" stroke-width="0.9" />
<line x1="241.48" y1="826.50" x2="241.48" y2="829.30" stroke="#333" stroke-width="0.9" />
<line x1="243.92" y1="826.50" x2="243.92" y2="829.30" stroke="#333" stroke-width="0.9" />
<line x1="246.04" y1="826.50" x2="246.04" y2="829.30" stroke="#333" stroke-width="0.9" />
<line x1="247.90" y1="826.50" x2="247.90" y2="829.30" stroke="#333" stroke-width="0.9" />
<line x1="249.57" y1="826.50" x2="249.57" y2="831.10" stroke="#222" stroke-width="1.0" />
<text x="237.87" y="848.80" font-size="11.2" font-weight="normal" font-style="normal" textLength="10.34" lengthAdjust="spacingAndGlyphs" fill="#1a1a1a" >10</text>
<text x="248.89" y="842.10" font-size="7.8" font-weight="normal" font-style="normal" textLength="3.90" lengthAdjust="spacingAndGlyphs" fill="#1a1a1a" >5</text>
<line x1="260.56" y1="826.50" x2="260.56" y2="829.30" stroke="#333" stroke-width="0.9" />
<text x="79.73" y="735.50" font-size="15" font-weight="normal" font-style="italic" textLength="55.87" lengthAdjust="spacingAndGlyphs" fill="#000" >KMS-11</text>
<clipPath id="cL2"><rect x="67.1" y="857.5" width="197.79999999999998" height="117.70000000000005"/></clipPath>
<g clip-path="url(#cL2)">
<path d="M216.0,975.2V967.4H216.9V958.7H217.8V961.9H218.7V953.3H219.6V910.8H220.5V918.9H221.4V871.3H222.3V855.5H223.2V855.5H224.1V855.5H225.0V855.5H225.9V855.5H226.8V855.5H227.7V855.5H228.6V855.5H229.5V855.5H230.4V855.5H231.3V855.5H232.2V855.5H233.1V855.5H234.0V869.1H234.9V881.0H235.8V908.8H236.7V933.6H237.6V915.6H238.5V940.3H239.4V971.6H240.3V965.3H241.2V975.2Z" fill="#000"/>
<path d="M215.5,975.2V974.7H216.4V970.2H217.3V970.7H218.2V953.2H219.1V913.5H220.0V896.0H220.9V910.8H221.8V885.6H222.7V855.5H223.6V855.5H224.5V855.5H225.4V855.5H226.3V855.5H227.2V855.5H228.1V855.5H229.0V855.5H229.9V855.5H230.8V855.5H231.7V855.5H232.6V866.0H233.5V884.7H234.4V894.6H235.3V893.1H236.2V931.6H237.1V938.5H238.0V947.5H238.9V953.1H239.8V961.5H240.7V968.8H241.6V968.6H242.5V975.2Z" fill="#6e6e6e"/>
<path d="M216.0,975.2V967.4H216.9V958.7H217.8V961.9H218.7V953.3H219.6V910.8H220.5V918.9H221.4V871.3H222.3V855.5H223.2V855.5H224.1V855.5H225.0V855.5H225.9V855.5H226.8V855.5H227.7V855.5H228.6V855.5H229.5V855.5H230.4V855.5H231.3V855.5H232.2V855.5H233.1V855.5H234.0V869.1H234.9V881.0H235.8V908.8H236.7V933.6H237.6V915.6H238.5V940.3H239.4V971.6H240.3V965.3H241.2V975.2Z" fill="none" stroke="#000" stroke-width="0.7"/>
</g>
<line x1="66.15" y1="857.50" x2="264.90" y2="857.50" stroke="#111" stroke-width="1.5" />
<line x1="264.90" y1="857.50" x2="264.90" y2="975.20" stroke="#444" stroke-width="1.4" />
<line x1="67.10" y1="856.75" x2="67.10" y2="976.15" stroke="#000" stroke-width="1.9" />
<line x1="67.10" y1="975.20" x2="265.60" y2="975.20" stroke="#000" stroke-width="1.9" />
<line x1="62.30" y1="857.50" x2="67.10" y2="857.50" stroke="#222" stroke-width="1.0" />
<text x="48.40" y="861.10" font-size="10.8" font-weight="normal" font-style="normal" textLength="11.07" lengthAdjust="spacingAndGlyphs" fill="#1a1a1a" >50</text>
<line x1="64.70" y1="864.86" x2="67.10" y2="864.86" stroke="#333" stroke-width="0.9" />
<line x1="64.70" y1="872.21" x2="67.10" y2="872.21" stroke="#333" stroke-width="0.9" />
<line x1="64.70" y1="879.57" x2="67.10" y2="879.57" stroke="#333" stroke-width="0.9" />
<line x1="62.30" y1="886.92" x2="67.10" y2="886.92" stroke="#222" stroke-width="1.0" />
<text x="48.40" y="890.52" font-size="10.8" font-weight="normal" font-style="normal" textLength="11.18" lengthAdjust="spacingAndGlyphs" fill="#1a1a1a" >39</text>
<line x1="64.70" y1="894.28" x2="67.10" y2="894.28" stroke="#333" stroke-width="0.9" />
<line x1="64.70" y1="901.64" x2="67.10" y2="901.64" stroke="#333" stroke-width="0.9" />
<line x1="64.70" y1="908.99" x2="67.10" y2="908.99" stroke="#333" stroke-width="0.9" />
<line x1="62.30" y1="916.35" x2="67.10" y2="916.35" stroke="#222" stroke-width="1.0" />
<text x="48.30" y="919.95" font-size="10.8" font-weight="normal" font-style="normal" textLength="11.23" lengthAdjust="spacingAndGlyphs" fill="#1a1a1a" >28</text>
<line x1="64.70" y1="923.71" x2="67.10" y2="923.71" stroke="#333" stroke-width="0.9" />
<line x1="64.70" y1="931.06" x2="67.10" y2="931.06" stroke="#333" stroke-width="0.9" />
<line x1="64.70" y1="938.42" x2="67.10" y2="938.42" stroke="#333" stroke-width="0.9" />
<line x1="62.30" y1="945.78" x2="67.10" y2="945.78" stroke="#222" stroke-width="1.0" />
<text x="48.02" y="949.38" font-size="10.8" font-weight="normal" font-style="normal" textLength="11.51" lengthAdjust="spacingAndGlyphs" fill="#1a1a1a" >16</text>
<line x1="64.70" y1="953.13" x2="67.10" y2="953.13" stroke="#333" stroke-width="0.9" />
<line x1="64.70" y1="960.49" x2="67.10" y2="960.49" stroke="#333" stroke-width="0.9" />
<line x1="64.70" y1="967.84" x2="67.10" y2="967.84" stroke="#333" stroke-width="0.9" />
<line x1="62.30" y1="975.20" x2="67.10" y2="975.20" stroke="#222" stroke-width="1.0" />
<text x="54.11" y="978.80" font-size="10.8" font-weight="normal" font-style="normal" textLength="5.39" lengthAdjust="spacingAndGlyphs" fill="#1a1a1a" >5</text>
<line x1="67.10" y1="975.20" x2="67.10" y2="979.80" stroke="#222" stroke-width="1.0" />
<text x="55.40" y="997.50" font-size="11.2" font-weight="normal" font-style="normal" textLength="10.34" lengthAdjust="spacingAndGlyphs" fill="#1a1a1a" >10</text>
<text x="66.42" y="990.80" font-size="7.8" font-weight="normal" font-style="normal" textLength="3.90" lengthAdjust="spacingAndGlyphs" fill="#1a1a1a" >0</text>
<line x1="78.09" y1="975.20" x2="78.09" y2="978.00" stroke="#333" stroke-width="0.9" />
<line x1="84.51" y1="975.20" x2="84.51" y2="978.00" stroke="#333" stroke-width="0.9" />
<line x1="89.07" y1="975.20" x2="89.07" y2="978.00" stroke="#333" stroke-width="0.9" />
<line x1="92.61" y1="975.20" x2="92.61" y2="978.00" stroke="#333" stroke-width="0.9" />
<line x1="95.50" y1="975.20" x2="95.50" y2="978.00" stroke="#333" stroke-width="0.9" />
<line x1="97.94" y1="975.20" x2="97.94" y2="978.00" stroke="#333" stroke-width="0.9" />
<line x1="100.06" y1="975.20" x2="100.06" y2="978.00" stroke="#333" stroke-width="0.9" />
<line x1="101.92" y1="975.20" x2="101.92" y2="978.00" stroke="#333" stroke-width="0.9" />
<line x1="103.59" y1="975.20" x2="103.59" y2="979.80" stroke="#222" stroke-width="1.0" />
<text x="91.90" y="997.50" font-size="11.2" font-weight="normal" font-style="normal" textLength="10.34" lengthAdjust="spacingAndGlyphs" fill="#1a1a1a" >10</text>
<text x="102.67" y="990.80" font-size="7.8" font-weight="normal" font-style="normal" textLength="3.90" lengthAdjust="spacingAndGlyphs" fill="#1a1a1a" >1</text>
<line x1="114.58" y1="975.20" x2="114.58" y2="978.00" stroke="#333" stroke-width="0.9" />
<line x1="121.01" y1="975.20" x2="121.01" y2="978.00" stroke="#333" stroke-width="0.9" />
<line x1="125.57" y1="975.20" x2="125.57" y2="978.00" stroke="#333" stroke-width="0.9" />
<line x1="129.10" y1="975.20" x2="129.10" y2="978.00" stroke="#333" stroke-width="0.9" />
<line x1="131.99" y1="975.20" x2="131.99" y2="978.00" stroke="#333" stroke-width="0.9" />
<line x1="134.44" y1="975.20" x2="134.44" y2="978.00" stroke="#333" stroke-width="0.9" />
<line x1="136.55" y1="975.20" x2="136.55" y2="978.00" stroke="#333" stroke-width="0.9" />
<line x1="138.42" y1="975.20" x2="138.42" y2="978.00" stroke="#333" stroke-width="0.9" />
<line x1="140.09" y1="975.20" x2="140.09" y2="979.80" stroke="#222" stroke-width="1.0" />
<text x="128.39" y="997.50" font-size="11.2" font-weight="normal" font-style="normal" textLength="10.34" lengthAdjust="spacingAndGlyphs" fill="#1a1a1a" >10</text>
<text x="139.34" y="990.80" font-size="7.8" font-weight="normal" font-style="normal" textLength="3.90" lengthAdjust="spacingAndGlyphs" fill="#1a1a1a" >2</text>
<line x1="151.07" y1="975.20" x2="151.07" y2="978.00" stroke="#333" stroke-width="0.9" />
<line x1="157.50" y1="975.20" x2="157.50" y2="978.00" stroke="#333" stroke-width="0.9" />
<line x1="162.06" y1="975.20" x2="162.06" y2="978.00" stroke="#333" stroke-width="0.9" />
<line x1="165.60" y1="975.20" x2="165.60" y2="978.00" stroke="#333" stroke-width="0.9" />
<line x1="168.49" y1="975.20" x2="168.49" y2="978.00" stroke="#333" stroke-width="0.9" />
<line x1="170.93" y1="975.20" x2="170.93" y2="978.00" stroke="#333" stroke-width="0.9" />
<line x1="173.05" y1="975.20" x2="173.05" y2="978.00" stroke="#333" stroke-width="0.9" />
<line x1="174.91" y1="975.20" x2="174.91" y2="978.00" stroke="#333" stroke-width="0.9" />
<line x1="176.58" y1="975.20" x2="176.58" y2="979.80" stroke="#222" stroke-width="1.0" />
<text x="164.89" y="997.50" font-size="11.2" font-weight="normal" font-style="normal" textLength="10.34" lengthAdjust="spacingAndGlyphs" fill="#1a1a1a" >10</text>
<text x="175.90" y="990.80" font-size="7.8" font-weight="normal" font-style="normal" textLength="3.90" lengthAdjust="spacingAndGlyphs" fill="#1a1a1a" >3</text>
<line x1="187.57" y1="975.20" x2="187.57" y2="978.00" stroke="#333" stroke-width="0.9" />
<line x1="194.00" y1="975.20" x2="194.00" y2="978.00" stroke="#333" stroke-width="0.9" />
<line x1="198.56" y1="975.20" x2="198.56" y2="978.00" stroke="#333" stroke-width="0.9" />
<line x1="202.09" y1="975.20" x2="202.09" y2="978.00" stroke="#333" stroke-width="0.9" />
<line x1="204.98" y1="975.20" x2="204.98" y2="978.00" stroke="#333" stroke-width="0.9" />
<line x1="207.42" y1="975.20" x2="207.42" y2="978.00" stroke="#333" stroke-width="0.9" />
<line x1="209.54" y1="975.20" x2="209.54" y2="978.00" stroke="#333" stroke-width="0.9" />
<line x1="211.41" y1="975.20" x2="211.41" y2="978.00" stroke="#333" stroke-width="0.9" />
<line x1="213.08" y1="975.20" x2="213.08" y2="979.80" stroke="#222" stroke-width="1.0" />
<text x="201.38" y="997.50" font-size="11.2" font-weight="normal" font-style="normal" textLength="10.34" lengthAdjust="spacingAndGlyphs" fill="#1a1a1a" >10</text>
<text x="212.54" y="990.80" font-size="7.8" font-weight="normal" font-style="normal" textLength="3.90" lengthAdjust="spacingAndGlyphs" fill="#1a1a1a" >4</text>
<line x1="224.06" y1="975.20" x2="224.06" y2="978.00" stroke="#333" stroke-width="0.9" />
<line x1="230.49" y1="975.20" x2="230.49" y2="978.00" stroke="#333" stroke-width="0.9" />
<line x1="235.05" y1="975.20" x2="235.05" y2="978.00" stroke="#333" stroke-width="0.9" />
<line x1="238.59" y1="975.20" x2="238.59" y2="978.00" stroke="#333" stroke-width="0.9" />
<line x1="241.48" y1="975.20" x2="241.48" y2="978.00" stroke="#333" stroke-width="0.9" />
<line x1="243.92" y1="975.20" x2="243.92" y2="978.00" stroke="#333" stroke-width="0.9" />
<line x1="246.04" y1="975.20" x2="246.04" y2="978.00" stroke="#333" stroke-width="0.9" />
<line x1="247.90" y1="975.20" x2="247.90" y2="978.00" stroke="#333" stroke-width="0.9" />
<line x1="249.57" y1="975.20" x2="249.57" y2="979.80" stroke="#222" stroke-width="1.0" />
<text x="237.87" y="997.50" font-size="11.2" font-weight="normal" font-style="normal" textLength="10.34" lengthAdjust="spacingAndGlyphs" fill="#1a1a1a" >10</text>
<text x="248.89" y="990.80" font-size="7.8" font-weight="normal" font-style="normal" textLength="3.90" lengthAdjust="spacingAndGlyphs" fill="#1a1a1a" >5</text>
<line x1="260.56" y1="975.20" x2="260.56" y2="978.00" stroke="#333" stroke-width="0.9" />
<text x="79.54" y="885.30" font-size="15" font-weight="normal" font-style="italic" textLength="57.62" lengthAdjust="spacingAndGlyphs" fill="#000" >OCIMy5</text>
<clipPath id="cL3"><rect x="67.1" y="1005.0" width="197.79999999999998" height="117.70000000000005"/></clipPath>
<g clip-path="url(#cL3)">
<path d="M219.0,1122.7V1118.8H219.9V1120.4H220.8V1112.0H221.7V1111.0H222.6V1101.1H223.5V1086.5H224.4V1065.4H225.3V1055.4H226.2V1038.4H227.1V1020.0H228.0V1011.6H228.9V1028.8H229.8V1006.4H230.7V1016.2H231.6V1003.0H232.5V1010.4H233.4V1003.0H234.3V1003.0H235.2V1003.0H236.1V1019.6H237.0V1006.2H237.9V1008.0H238.8V1024.2H239.7V1037.0H240.6V1059.1H241.5V1080.7H242.4V1082.4H243.3V1107.1H244.2V1096.1H245.1V1113.6H246.0V1117.3H246.9V1120.0H247.8V1122.7Z" fill="#000"/>
<path d="M217.0,1122.7V1116.3H217.9V1119.1H218.8V1115.1H219.7V1109.6H220.6V1108.9H221.5V1093.5H222.4V1086.4H223.3V1094.8H224.2V1069.3H225.1V1058.7H226.0V1048.1H226.9V1015.7H227.8V1013.7H228.7V1008.3H229.6V1004.0H230.5V1007.7H231.4V1003.0H232.3V1003.0H233.2V1003.0H234.1V1003.0H235.0V1003.0H235.9V1008.2H236.8V1009.5H237.7V1016.8H238.6V1015.9H239.5V1054.6H240.4V1069.2H241.3V1065.9H242.2V1086.7H243.1V1107.3H244.0V1113.3H244.9V1117.9H245.8V1116.3H246.7V1117.1H247.6V1122.7H248.5V1122.7Z" fill="#6e6e6e"/>
<path d="M219.0,1122.7V1118.8H219.9V1120.4H220.8V1112.0H221.7V1111.0H222.6V1101.1H223.5V1086.5H224.4V1065.4H225.3V1055.4H226.2V1038.4H227.1V1020.0H228.0V1011.6H228.9V1028.8H229.8V1006.4H230.7V1016.2H231.6V1003.0H232.5V1010.4H233.4V1003.0H234.3V1003.0H235.2V1003.0H236.1V1019.6H237.0V1006.2H237.9V1008.0H238.8V1024.2H239.7V1037.0H240.6V1059.1H241.5V1080.7H242.4V1082.4H243.3V1107.1H244.2V1096.1H245.1V1113.6H246.0V1117.3H246.9V1120.0H247.8V1122.7Z" fill="none" stroke="#000" stroke-width="0.7"/>
</g>
<line x1="66.15" y1="1005.00" x2="264.90" y2="1005.00" stroke="#111" stroke-width="1.5" />
<line x1="264.90" y1="1005.00" x2="264.90" y2="1122.70" stroke="#444" stroke-width="1.4" />
<line x1="67.10" y1="1004.25" x2="67.10" y2="1123.65" stroke="#000" stroke-width="1.9" />
<line x1="67.10" y1="1122.70" x2="265.60" y2="1122.70" stroke="#000" stroke-width="1.9" />
<line x1="62.30" y1="1005.00" x2="67.10" y2="1005.00" stroke="#222" stroke-width="1.0" />
<text x="48.40" y="1008.60" font-size="10.8" font-weight="normal" font-style="normal" textLength="11.07" lengthAdjust="spacingAndGlyphs" fill="#1a1a1a" >50</text>
<line x1="64.70" y1="1012.36" x2="67.10" y2="1012.36" stroke="#333" stroke-width="0.9" />
<line x1="64.70" y1="1019.71" x2="67.10" y2="1019.71" stroke="#333" stroke-width="0.9" />
<line x1="64.70" y1="1027.07" x2="67.10" y2="1027.07" stroke="#333" stroke-width="0.9" />
<line x1="62.30" y1="1034.42" x2="67.10" y2="1034.42" stroke="#222" stroke-width="1.0" />
<text x="48.40" y="1038.02" font-size="10.8" font-weight="normal" font-style="normal" textLength="11.18" lengthAdjust="spacingAndGlyphs" fill="#1a1a1a" >39</text>
<line x1="64.70" y1="1041.78" x2="67.10" y2="1041.78" stroke="#333" stroke-width="0.9" />
<line x1="64.70" y1="1049.14" x2="67.10" y2="1049.14" stroke="#333" stroke-width="0.9" />
<line x1="64.70" y1="1056.49" x2="67.10" y2="1056.49" stroke="#333" stroke-width="0.9" />
<line x1="62.30" y1="1063.85" x2="67.10" y2="1063.85" stroke="#222" stroke-width="1.0" />
<text x="48.30" y="1067.45" font-size="10.8" font-weight="normal" font-style="normal" textLength="11.23" lengthAdjust="spacingAndGlyphs" fill="#1a1a1a" >28</text>
<line x1="64.70" y1="1071.21" x2="67.10" y2="1071.21" stroke="#333" stroke-width="0.9" />
<line x1="64.70" y1="1078.56" x2="67.10" y2="1078.56" stroke="#333" stroke-width="0.9" />
<line x1="64.70" y1="1085.92" x2="67.10" y2="1085.92" stroke="#333" stroke-width="0.9" />
<line x1="62.30" y1="1093.28" x2="67.10" y2="1093.28" stroke="#222" stroke-width="1.0" />
<text x="48.02" y="1096.88" font-size="10.8" font-weight="normal" font-style="normal" textLength="11.51" lengthAdjust="spacingAndGlyphs" fill="#1a1a1a" >16</text>
<line x1="64.70" y1="1100.63" x2="67.10" y2="1100.63" stroke="#333" stroke-width="0.9" />
<line x1="64.70" y1="1107.99" x2="67.10" y2="1107.99" stroke="#333" stroke-width="0.9" />
<line x1="64.70" y1="1115.34" x2="67.10" y2="1115.34" stroke="#333" stroke-width="0.9" />
<line x1="62.30" y1="1122.70" x2="67.10" y2="1122.70" stroke="#222" stroke-width="1.0" />
<text x="54.11" y="1126.30" font-size="10.8" font-weight="normal" font-style="normal" textLength="5.39" lengthAdjust="spacingAndGlyphs" fill="#1a1a1a" >5</text>
<line x1="67.10" y1="1122.70" x2="67.10" y2="1127.30" stroke="#222" stroke-width="1.0" />
<text x="55.40" y="1145.00" font-size="11.2" font-weight="normal" font-style="normal" textLength="10.34" lengthAdjust="spacingAndGlyphs" fill="#1a1a1a" >10</text>
<text x="66.42" y="1138.30" font-size="7.8" font-weight="normal" font-style="normal" textLength="3.90" lengthAdjust="spacingAndGlyphs" fill="#1a1a1a" >0</text>
<line x1="78.09" y1="1122.70" x2="78.09" y2="1125.50" stroke="#333" stroke-width="0.9" />
<line x1="84.51" y1="1122.70" x2="84.51" y2="1125.50" stroke="#333" stroke-width="0.9" />
<line x1="89.07" y1="1122.70" x2="89.07" y2="1125.50" stroke="#333" stroke-width="0.9" />
<line x1="92.61" y1="1122.70" x2="92.61" y2="1125.50" stroke="#333" stroke-width="0.9" />
<line x1="95.50" y1="1122.70" x2="95.50" y2="1125.50" stroke="#333" stroke-width="0.9" />
<line x1="97.94" y1="1122.70" x2="97.94" y2="1125.50" stroke="#333" stroke-width="0.9" />
<line x1="100.06" y1="1122.70" x2="100.06" y2="1125.50" stroke="#333" stroke-width="0.9" />
<line x1="101.92" y1="1122.70" x2="101.92" y2="1125.50" stroke="#333" stroke-width="0.9" />
<line x1="103.59" y1="1122.70" x2="103.59" y2="1127.30" stroke="#222" stroke-width="1.0" />
<text x="91.90" y="1145.00" font-size="11.2" font-weight="normal" font-style="normal" textLength="10.34" lengthAdjust="spacingAndGlyphs" fill="#1a1a1a" >10</text>
<text x="102.67" y="1138.30" font-size="7.8" font-weight="normal" font-style="normal" textLength="3.90" lengthAdjust="spacingAndGlyphs" fill="#1a1a1a" >1</text>
<line x1="114.58" y1="1122.70" x2="114.58" y2="1125.50" stroke="#333" stroke-width="0.9" />
<line x1="121.01" y1="1122.70" x2="121.01" y2="1125.50" stroke="#333" stroke-width="0.9" />
<line x1="125.57" y1="1122.70" x2="125.57" y2="1125.50" stroke="#333" stroke-width="0.9" />
<line x1="129.10" y1="1122.70" x2="129.10" y2="1125.50" stroke="#333" stroke-width="0.9" />
<line x1="131.99" y1="1122.70" x2="131.99" y2="1125.50" stroke="#333" stroke-width="0.9" />
<line x1="134.44" y1="1122.70" x2="134.44" y2="1125.50" stroke="#333" stroke-width="0.9" />
<line x1="136.55" y1="1122.70" x2="136.55" y2="1125.50" stroke="#333" stroke-width="0.9" />
<line x1="138.42" y1="1122.70" x2="138.42" y2="1125.50" stroke="#333" stroke-width="0.9" />
<line x1="140.09" y1="1122.70" x2="140.09" y2="1127.30" stroke="#222" stroke-width="1.0" />
<text x="128.39" y="1145.00" font-size="11.2" font-weight="normal" font-style="normal" textLength="10.34" lengthAdjust="spacingAndGlyphs" fill="#1a1a1a" >10</text>
<text x="139.34" y="1138.30" font-size="7.8" font-weight="normal" font-style="normal" textLength="3.90" lengthAdjust="spacingAndGlyphs" fill="#1a1a1a" >2</text>
<line x1="151.07" y1="1122.70" x2="151.07" y2="1125.50" stroke="#333" stroke-width="0.9" />
<line x1="157.50" y1="1122.70" x2="157.50" y2="1125.50" stroke="#333" stroke-width="0.9" />
<line x1="162.06" y1="1122.70" x2="162.06" y2="1125.50" stroke="#333" stroke-width="0.9" />
<line x1="165.60" y1="1122.70" x2="165.60" y2="1125.50" stroke="#333" stroke-width="0.9" />
<line x1="168.49" y1="1122.70" x2="168.49" y2="1125.50" stroke="#333" stroke-width="0.9" />
<line x1="170.93" y1="1122.70" x2="170.93" y2="1125.50" stroke="#333" stroke-width="0.9" />
<line x1="173.05" y1="1122.70" x2="173.05" y2="1125.50" stroke="#333" stroke-width="0.9" />
<line x1="174.91" y1="1122.70" x2="174.91" y2="1125.50" stroke="#333" stroke-width="0.9" />
<line x1="176.58" y1="1122.70" x2="176.58" y2="1127.30" stroke="#222" stroke-width="1.0" />
<text x="164.89" y="1145.00" font-size="11.2" font-weight="normal" font-style="normal" textLength="10.34" lengthAdjust="spacingAndGlyphs" fill="#1a1a1a" >10</text>
<text x="175.90" y="1138.30" font-size="7.8" font-weight="normal" font-style="normal" textLength="3.90" lengthAdjust="spacingAndGlyphs" fill="#1a1a1a" >3</text>
<line x1="187.57" y1="1122.70" x2="187.57" y2="1125.50" stroke="#333" stroke-width="0.9" />
<line x1="194.00" y1="1122.70" x2="194.00" y2="1125.50" stroke="#333" stroke-width="0.9" />
<line x1="198.56" y1="1122.70" x2="198.56" y2="1125.50" stroke="#333" stroke-width="0.9" />
<line x1="202.09" y1="1122.70" x2="202.09" y2="1125.50" stroke="#333" stroke-width="0.9" />
<line x1="204.98" y1="1122.70" x2="204.98" y2="1125.50" stroke="#333" stroke-width="0.9" />
<line x1="207.42" y1="1122.70" x2="207.42" y2="1125.50" stroke="#333" stroke-width="0.9" />
<line x1="209.54" y1="1122.70" x2="209.54" y2="1125.50" stroke="#333" stroke-width="0.9" />
<line x1="211.41" y1="1122.70" x2="211.41" y2="1125.50" stroke="#333" stroke-width="0.9" />
<line x1="213.08" y1="1122.70" x2="213.08" y2="1127.30" stroke="#222" stroke-width="1.0" />
<text x="201.38" y="1145.00" font-size="11.2" font-weight="normal" font-style="normal" textLength="10.34" lengthAdjust="spacingAndGlyphs" fill="#1a1a1a" >10</text>
<text x="212.54" y="1138.30" font-size="7.8" font-weight="normal" font-style="normal" textLength="3.90" lengthAdjust="spacingAndGlyphs" fill="#1a1a1a" >4</text>
<line x1="224.06" y1="1122.70" x2="224.06" y2="1125.50" stroke="#333" stroke-width="0.9" />
<line x1="230.49" y1="1122.70" x2="230.49" y2="1125.50" stroke="#333" stroke-width="0.9" />
<line x1="235.05" y1="1122.70" x2="235.05" y2="1125.50" stroke="#333" stroke-width="0.9" />
<line x1="238.59" y1="1122.70" x2="238.59" y2="1125.50" stroke="#333" stroke-width="0.9" />
<line x1="241.48" y1="1122.70" x2="241.48" y2="1125.50" stroke="#333" stroke-width="0.9" />
<line x1="243.92" y1="1122.70" x2="243.92" y2="1125.50" stroke="#333" stroke-width="0.9" />
<line x1="246.04" y1="1122.70" x2="246.04" y2="1125.50" stroke="#333" stroke-width="0.9" />
<line x1="247.90" y1="1122.70" x2="247.90" y2="1125.50" stroke="#333" stroke-width="0.9" />
<line x1="249.57" y1="1122.70" x2="249.57" y2="1127.30" stroke="#222" stroke-width="1.0" />
<text x="237.87" y="1145.00" font-size="11.2" font-weight="normal" font-style="normal" textLength="10.34" lengthAdjust="spacingAndGlyphs" fill="#1a1a1a" >10</text>
<text x="248.89" y="1138.30" font-size="7.8" font-weight="normal" font-style="normal" textLength="3.90" lengthAdjust="spacingAndGlyphs" fill="#1a1a1a" >5</text>
<line x1="260.56" y1="1122.70" x2="260.56" y2="1125.50" stroke="#333" stroke-width="0.9" />
<text x="79.53" y="1033.10" font-size="15" font-weight="normal" font-style="italic" textLength="87.07" lengthAdjust="spacingAndGlyphs" fill="#000" >RPMI-MR20</text>
<clipPath id="cL4"><rect x="67.1" y="1152.4" width="197.79999999999998" height="116.69999999999982"/></clipPath>
<g clip-path="url(#cL4)">
<path d="M173.0,1269.1V1268.1H173.9V1268.4H174.8V1265.5H175.7V1266.4H176.6V1262.2H177.5V1262.7H178.4V1262.2H179.3V1265.1H180.2V1261.9H181.1V1264.5H182.0V1260.0H182.9V1259.7H183.8V1252.7H184.7V1250.9H185.6V1257.7H186.5V1246.7H187.4V1248.8H188.3V1245.3H189.2V1243.6H190.1V1247.6H191.0V1240.2H191.9V1236.6H192.8V1222.6H193.7V1223.1H194.6V1219.5H195.5V1221.6H196.4V1215.4H197.3V1215.9H198.2V1199.1H199.1V1210.8H200.0V1201.0H200.9V1196.8H201.8V1192.7H202.7V1188.0H203.6V1178.9H204.5V1173.5H205.4V1161.9H206.3V1158.8H207.2V1154.5H208.1V1150.4H209.0V1159.2H209.9V1153.1H210.8V1156.8H211.7V1159.4H212.6V1150.4H213.5V1150.4H214.4V1150.4H215.3V1153.4H216.2V1153.0H217.1V1166.6H218.0V1165.3H218.9V1171.1H219.8V1177.2H220.7V1176.9H221.6V1190.6H222.5V1196.7H223.4V1201.3H224.3V1207.2H225.2V1210.6H226.1V1227.7H227.0V1211.3H227.9V1224.9H228.8V1241.9H229.7V1232.7H230.6V1236.2H231.5V1238.3H232.4V1241.4H233.3V1240.8H234.2V1248.5H235.1V1251.5H236.0V1249.0H236.9V1247.1H237.8V1250.7H238.7V1259.4H239.6V1254.8H240.5V1254.1H241.4V1256.4H242.3V1261.4H243.2V1262.9H244.1V1259.9H245.0V1261.6H245.9V1262.0H246.8V1261.6H247.7V1265.2H248.6V1264.5H249.5V1269.1H250.4V1268.2H251.3V1268.7H252.2V1269.1Z" fill="#000"/>
<path d="M158.0,1269.1V1268.4H158.9V1267.6H159.8V1266.1H160.7V1265.4H161.6V1262.9H162.5V1255.7H163.4V1251.8H164.3V1252.3H165.2V1242.6H166.1V1237.3H167.0V1230.2H167.9V1221.2H168.8V1221.6H169.7V1219.8H170.6V1189.9H171.5V1202.5H172.4V1185.7H173.3V1183.4H174.2V1170.1H175.1V1167.7H176.0V1169.5H176.9V1158.6H177.8V1162.1H178.7V1150.4H179.6V1150.4H180.5V1150.4H181.4V1167.5H182.3V1157.3H183.2V1150.4H184.1V1157.5H185.0V1178.7H185.9V1175.8H186.8V1163.1H187.7V1185.5H188.6V1185.9H189.5V1211.3H190.4V1201.4H191.3V1199.4H192.2V1219.7H193.1V1210.4H194.0V1223.2H194.9V1231.9H195.8V1227.8H196.7V1235.9H197.6V1230.6H198.5V1231.3H199.4V1233.9H200.3V1248.8H201.2V1239.1H202.1V1242.2H203.0V1254.1H203.9V1247.7H204.8V1256.9H205.7V1258.3H206.6V1252.7H207.5V1255.7H208.4V1258.0H209.3V1261.0H210.2V1257.4H211.1V1263.3H212.0V1261.2H212.9V1265.7H213.8V1267.0H214.7V1267.4H215.6V1267.6H216.5V1266.0H217.4V1269.1H218.3V1269.1Z" fill="#6e6e6e"/>
<path d="M173.0,1269.1V1268.1H173.9V1268.4H174.8V1265.5H175.7V1266.4H176.6V1262.2H177.5V1262.7H178.4V1262.2H179.3V1265.1H180.2V1261.9H181.1V1264.5H182.0V1260.0H182.9V1259.7H183.8V1252.7H184.7V1250.9H185.6V1257.7H186.5V1246.7H187.4V1248.8H188.3V1245.3H189.2V1243.6H190.1V1247.6H191.0V1240.2H191.9V1236.6H192.8V1222.6H193.7V1223.1H194.6V1219.5H195.5V1221.6H196.4V1215.4H197.3V1215.9H198.2V1199.1H199.1V1210.8H200.0V1201.0H200.9V1196.8H201.8V1192.7H202.7V1188.0H203.6V1178.9H204.5V1173.5H205.4V1161.9H206.3V1158.8H207.2V1154.5H208.1V1150.4H209.0V1159.2H209.9V1153.1H210.8V1156.8H211.7V1159.4H212.6V1150.4H213.5V1150.4H214.4V1150.4H215.3V1153.4H216.2V1153.0H217.1V1166.6H218.0V1165.3H218.9V1171.1H219.8V1177.2H220.7V1176.9H221.6V1190.6H222.5V1196.7H223.4V1201.3H224.3V1207.2H225.2V1210.6H226.1V1227.7H227.0V1211.3H227.9V1224.9H228.8V1241.9H229.7V1232.7H230.6V1236.2H231.5V1238.3H232.4V1241.4H233.3V1240.8H234.2V1248.5H235.1V1251.5H236.0V1249.0H236.9V1247.1H237.8V1250.7H238.7V1259.4H239.6V1254.8H240.5V1254.1H241.4V1256.4H242.3V1261.4H243.2V1262.9H244.1V1259.9H245.0V1261.6H245.9V1262.0H246.8V1261.6H247.7V1265.2H248.6V1264.5H249.5V1269.1H250.4V1268.2H251.3V1268.7H252.2V1269.1Z" fill="none" stroke="#000" stroke-width="0.7"/>
<path d="M150.0,1269.1h0.9v-2.4h-0.9zM152.7,1269.1h0.9v-3.3h-0.9zM154.5,1269.1h0.9v-3.3h-0.9zM155.4,1269.1h0.9v-1.4h-0.9zM156.3,1269.1h0.9v-2.0h-0.9zM158.1,1269.1h0.9v-2.4h-0.9zM159.0,1269.1h0.9v-2.4h-0.9zM162.6,1269.1h0.9v-2.8h-0.9zM165.3,1269.1h0.9v-2.0h-0.9zM171.6,1269.1h0.9v-1.7h-0.9zM172.5,1269.1h0.9v-2.4h-0.9zM173.4,1269.1h0.9v-3.3h-0.9zM175.2,1269.1h0.9v-3.3h-0.9zM176.1,1269.1h0.9v-1.4h-0.9zM178.8,1269.1h0.9v-1.7h-0.9zM181.5,1269.1h0.9v-1.4h-0.9zM183.3,1269.1h0.9v-2.8h-0.9zM184.2,1269.1h0.9v-1.4h-0.9zM185.1,1269.1h0.9v-2.4h-0.9zM186.9,1269.1h0.9v-2.0h-0.9zM188.7,1269.1h0.9v-1.4h-0.9zM191.4,1269.1h0.9v-3.3h-0.9zM193.2,1269.1h0.9v-1.4h-0.9zM194.1,1269.1h0.9v-2.8h-0.9zM198.6,1269.1h0.9v-1.7h-0.9zM199.5,1269.1h0.9v-1.7h-0.9zM202.2,1269.1h0.9v-1.7h-0.9zM205.8,1269.1h0.9v-1.4h-0.9zM211.2,1269.1h0.9v-2.0h-0.9zM215.7,1269.1h0.9v-1.4h-0.9zM217.5,1269.1h0.9v-1.4h-0.9zM224.7,1269.1h0.9v-3.3h-0.9zM228.3,1269.1h0.9v-1.7h-0.9zM229.2,1269.1h0.9v-2.0h-0.9zM233.7,1269.1h0.9v-2.8h-0.9zM236.4,1269.1h0.9v-2.4h-0.9zM239.1,1269.1h0.9v-3.3h-0.9zM241.8,1269.1h0.9v-2.4h-0.9zM242.7,1269.1h0.9v-2.4h-0.9zM244.5,1269.1h0.9v-2.8h-0.9zM247.2,1269.1h0.9v-2.0h-0.9zM254.4,1269.1h0.9v-2.8h-0.9zM256.2,1269.1h0.9v-2.4h-0.9zM258.0,1269.1h0.9v-3.3h-0.9zM258.9,1269.1h0.9v-2.8h-0.9z" fill="#000"/>
</g>
<line x1="66.15" y1="1152.40" x2="264.90" y2="1152.40" stroke="#111" stroke-width="1.5" />
<line x1="264.90" y1="1152.40" x2="264.90" y2="1269.10" stroke="#444" stroke-width="1.4" />
<line x1="67.10" y1="1151.65" x2="67.10" y2="1270.05" stroke="#000" stroke-width="1.9" />
<line x1="67.10" y1="1269.10" x2="265.60" y2="1269.10" stroke="#000" stroke-width="1.9" />
<line x1="62.30" y1="1152.40" x2="67.10" y2="1152.40" stroke="#222" stroke-width="1.0" />
<text x="48.40" y="1156.00" font-size="10.8" font-weight="normal" font-style="normal" textLength="11.07" lengthAdjust="spacingAndGlyphs" fill="#1a1a1a" >50</text>
<line x1="64.70" y1="1159.69" x2="67.10" y2="1159.69" stroke="#333" stroke-width="0.9" />
<line x1="64.70" y1="1166.99" x2="67.10" y2="1166.99" stroke="#333" stroke-width="0.9" />
<line x1="64.70" y1="1174.28" x2="67.10" y2="1174.28" stroke="#333" stroke-width="0.9" />
<line x1="62.30" y1="1181.58" x2="67.10" y2="1181.58" stroke="#222" stroke-width="1.0" />
<text x="48.40" y="1185.17" font-size="10.8" font-weight="normal" font-style="normal" textLength="11.12" lengthAdjust="spacingAndGlyphs" fill="#1a1a1a" >38</text>
<line x1="64.70" y1="1188.87" x2="67.10" y2="1188.87" stroke="#333" stroke-width="0.9" />
<line x1="64.70" y1="1196.16" x2="67.10" y2="1196.16" stroke="#333" stroke-width="0.9" />
<line x1="64.70" y1="1203.46" x2="67.10" y2="1203.46" stroke="#333" stroke-width="0.9" />
<line x1="62.30" y1="1210.75" x2="67.10" y2="1210.75" stroke="#222" stroke-width="1.0" />
<text x="48.30" y="1214.35" font-size="10.8" font-weight="normal" font-style="normal" textLength="11.23" lengthAdjust="spacingAndGlyphs" fill="#1a1a1a" >25</text>
<line x1="64.70" y1="1218.04" x2="67.10" y2="1218.04" stroke="#333" stroke-width="0.9" />
<line x1="64.70" y1="1225.34" x2="67.10" y2="1225.34" stroke="#333" stroke-width="0.9" />
<line x1="64.70" y1="1232.63" x2="67.10" y2="1232.63" stroke="#333" stroke-width="0.9" />
<line x1="62.30" y1="1239.92" x2="67.10" y2="1239.92" stroke="#222" stroke-width="1.0" />
<text x="48.02" y="1243.52" font-size="10.8" font-weight="normal" font-style="normal" textLength="11.51" lengthAdjust="spacingAndGlyphs" fill="#1a1a1a" >13</text>
<line x1="64.70" y1="1247.22" x2="67.10" y2="1247.22" stroke="#333" stroke-width="0.9" />
<line x1="64.70" y1="1254.51" x2="67.10" y2="1254.51" stroke="#333" stroke-width="0.9" />
<line x1="64.70" y1="1261.81" x2="67.10" y2="1261.81" stroke="#333" stroke-width="0.9" />
<line x1="62.30" y1="1269.10" x2="67.10" y2="1269.10" stroke="#222" stroke-width="1.0" />
<text x="54.12" y="1272.70" font-size="10.8" font-weight="normal" font-style="normal" textLength="5.33" lengthAdjust="spacingAndGlyphs" fill="#1a1a1a" >0</text>
<line x1="67.10" y1="1269.10" x2="67.10" y2="1273.70" stroke="#222" stroke-width="1.0" />
<text x="55.40" y="1291.40" font-size="11.2" font-weight="normal" font-style="normal" textLength="10.34" lengthAdjust="spacingAndGlyphs" fill="#1a1a1a" >10</text>
<text x="66.42" y="1284.70" font-size="7.8" font-weight="normal" font-style="normal" textLength="3.90" lengthAdjust="spacingAndGlyphs" fill="#1a1a1a" >0</text>
<line x1="78.09" y1="1269.10" x2="78.09" y2="1271.90" stroke="#333" stroke-width="0.9" />
<line x1="84.51" y1="1269.10" x2="84.51" y2="1271.90" stroke="#333" stroke-width="0.9" />
<line x1="89.07" y1="1269.10" x2="89.07" y2="1271.90" stroke="#333" stroke-width="0.9" />
<line x1="92.61" y1="1269.10" x2="92.61" y2="1271.90" stroke="#333" stroke-width="0.9" />
<line x1="95.50" y1="1269.10" x2="95.50" y2="1271.90" stroke="#333" stroke-width="0.9" />
<line x1="97.94" y1="1269.10" x2="97.94" y2="1271.90" stroke="#333" stroke-width="0.9" />
<line x1="100.06" y1="1269.10" x2="100.06" y2="1271.90" stroke="#333" stroke-width="0.9" />
<line x1="101.92" y1="1269.10" x2="101.92" y2="1271.90" stroke="#333" stroke-width="0.9" />
<line x1="103.59" y1="1269.10" x2="103.59" y2="1273.70" stroke="#222" stroke-width="1.0" />
<text x="91.90" y="1291.40" font-size="11.2" font-weight="normal" font-style="normal" textLength="10.34" lengthAdjust="spacingAndGlyphs" fill="#1a1a1a" >10</text>
<text x="102.67" y="1284.70" font-size="7.8" font-weight="normal" font-style="normal" textLength="3.90" lengthAdjust="spacingAndGlyphs" fill="#1a1a1a" >1</text>
<line x1="114.58" y1="1269.10" x2="114.58" y2="1271.90" stroke="#333" stroke-width="0.9" />
<line x1="121.01" y1="1269.10" x2="121.01" y2="1271.90" stroke="#333" stroke-width="0.9" />
<line x1="125.57" y1="1269.10" x2="125.57" y2="1271.90" stroke="#333" stroke-width="0.9" />
<line x1="129.10" y1="1269.10" x2="129.10" y2="1271.90" stroke="#333" stroke-width="0.9" />
<line x1="131.99" y1="1269.10" x2="131.99" y2="1271.90" stroke="#333" stroke-width="0.9" />
<line x1="134.44" y1="1269.10" x2="134.44" y2="1271.90" stroke="#333" stroke-width="0.9" />
<line x1="136.55" y1="1269.10" x2="136.55" y2="1271.90" stroke="#333" stroke-width="0.9" />
<line x1="138.42" y1="1269.10" x2="138.42" y2="1271.90" stroke="#333" stroke-width="0.9" />
<line x1="140.09" y1="1269.10" x2="140.09" y2="1273.70" stroke="#222" stroke-width="1.0" />
<text x="128.39" y="1291.40" font-size="11.2" font-weight="normal" font-style="normal" textLength="10.34" lengthAdjust="spacingAndGlyphs" fill="#1a1a1a" >10</text>
<text x="139.34" y="1284.70" font-size="7.8" font-weight="normal" font-style="normal" textLength="3.90" lengthAdjust="spacingAndGlyphs" fill="#1a1a1a" >2</text>
<line x1="151.07" y1="1269.10" x2="151.07" y2="1271.90" stroke="#333" stroke-width="0.9" />
<line x1="157.50" y1="1269.10" x2="157.50" y2="1271.90" stroke="#333" stroke-width="0.9" />
<line x1="162.06" y1="1269.10" x2="162.06" y2="1271.90" stroke="#333" stroke-width="0.9" />
<line x1="165.60" y1="1269.10" x2="165.60" y2="1271.90" stroke="#333" stroke-width="0.9" />
<line x1="168.49" y1="1269.10" x2="168.49" y2="1271.90" stroke="#333" stroke-width="0.9" />
<line x1="170.93" y1="1269.10" x2="170.93" y2="1271.90" stroke="#333" stroke-width="0.9" />
<line x1="173.05" y1="1269.10" x2="173.05" y2="1271.90" stroke="#333" stroke-width="0.9" />
<line x1="174.91" y1="1269.10" x2="174.91" y2="1271.90" stroke="#333" stroke-width="0.9" />
<line x1="176.58" y1="1269.10" x2="176.58" y2="1273.70" stroke="#222" stroke-width="1.0" />
<text x="164.89" y="1291.40" font-size="11.2" font-weight="normal" font-style="normal" textLength="10.34" lengthAdjust="spacingAndGlyphs" fill="#1a1a1a" >10</text>
<text x="175.90" y="1284.70" font-size="7.8" font-weight="normal" font-style="normal" textLength="3.90" lengthAdjust="spacingAndGlyphs" fill="#1a1a1a" >3</text>
<line x1="187.57" y1="1269.10" x2="187.57" y2="1271.90" stroke="#333" stroke-width="0.9" />
<line x1="194.00" y1="1269.10" x2="194.00" y2="1271.90" stroke="#333" stroke-width="0.9" />
<line x1="198.56" y1="1269.10" x2="198.56" y2="1271.90" stroke="#333" stroke-width="0.9" />
<line x1="202.09" y1="1269.10" x2="202.09" y2="1271.90" stroke="#333" stroke-width="0.9" />
<line x1="204.98" y1="1269.10" x2="204.98" y2="1271.90" stroke="#333" stroke-width="0.9" />
<line x1="207.42" y1="1269.10" x2="207.42" y2="1271.90" stroke="#333" stroke-width="0.9" />
<line x1="209.54" y1="1269.10" x2="209.54" y2="1271.90" stroke="#333" stroke-width="0.9" />
<line x1="211.41" y1="1269.10" x2="211.41" y2="1271.90" stroke="#333" stroke-width="0.9" />
<line x1="213.08" y1="1269.10" x2="213.08" y2="1273.70" stroke="#222" stroke-width="1.0" />
<text x="201.38" y="1291.40" font-size="11.2" font-weight="normal" font-style="normal" textLength="10.34" lengthAdjust="spacingAndGlyphs" fill="#1a1a1a" >10</text>
<text x="212.54" y="1284.70" font-size="7.8" font-weight="normal" font-style="normal" textLength="3.90" lengthAdjust="spacingAndGlyphs" fill="#1a1a1a" >4</text>
<line x1="224.06" y1="1269.10" x2="224.06" y2="1271.90" stroke="#333" stroke-width="0.9" />
<line x1="230.49" y1="1269.10" x2="230.49" y2="1271.90" stroke="#333" stroke-width="0.9" />
<line x1="235.05" y1="1269.10" x2="235.05" y2="1271.90" stroke="#333" stroke-width="0.9" />
<line x1="238.59" y1="1269.10" x2="238.59" y2="1271.90" stroke="#333" stroke-width="0.9" />
<line x1="241.48" y1="1269.10" x2="241.48" y2="1271.90" stroke="#333" stroke-width="0.9" />
<line x1="243.92" y1="1269.10" x2="243.92" y2="1271.90" stroke="#333" stroke-width="0.9" />
<line x1="246.04" y1="1269.10" x2="246.04" y2="1271.90" stroke="#333" stroke-width="0.9" />
<line x1="247.90" y1="1269.10" x2="247.90" y2="1271.90" stroke="#333" stroke-width="0.9" />
<line x1="249.57" y1="1269.10" x2="249.57" y2="1273.70" stroke="#222" stroke-width="1.0" />
<text x="237.87" y="1291.40" font-size="11.2" font-weight="normal" font-style="normal" textLength="10.34" lengthAdjust="spacingAndGlyphs" fill="#1a1a1a" >10</text>
<text x="248.89" y="1284.70" font-size="7.8" font-weight="normal" font-style="normal" textLength="3.90" lengthAdjust="spacingAndGlyphs" fill="#1a1a1a" >5</text>
<line x1="260.56" y1="1269.10" x2="260.56" y2="1271.90" stroke="#333" stroke-width="0.9" />
<text x="79.73" y="1177.50" font-size="15" font-weight="normal" font-style="italic" textLength="90.33" lengthAdjust="spacingAndGlyphs" fill="#000" >RPMI-Dox40</text>
<clipPath id="cR0"><rect x="314.7" y="562.4" width="198.90000000000003" height="117.0"/></clipPath>
<g clip-path="url(#cR0)">
<path d="M459.0,679.4V678.3H459.9V677.9H460.8V674.3H461.7V665.5H462.6V658.3H463.5V638.6H464.4V636.5H465.3V634.3H466.2V594.2H467.1V589.3H468.0V568.8H468.9V566.0H469.8V574.7H470.7V587.4H471.6V579.7H472.5V579.3H473.4V582.8H474.3V623.4H475.2V632.5H476.1V654.7H477.0V647.6H477.9V649.3H478.8V654.2H479.7V658.0H480.6V664.6H481.5V664.4H482.4V668.9H483.3V671.3H484.2V669.4H485.1V672.2H486.0V675.4H486.9V672.6H487.8V674.8H488.7V674.5H489.6V677.7H490.5V678.3H491.4V677.9H492.3V677.3H493.2V678.8H494.1V679.4Z" fill="#000"/>
<path d="M441.0,679.4V679.4H441.9V676.5H442.8V676.2H443.7V672.8H444.6V668.0H445.5V672.2H446.4V664.3H447.3V658.3H448.2V651.0H449.1V663.5H450.0V654.3H450.9V639.0H451.8V628.6H452.7V632.0H453.6V623.6H454.5V611.0H455.4V574.3H456.3V581.8H457.2V574.0H458.1V566.4H459.0V590.7H459.9V566.4H460.8V575.0H461.7V591.2H462.6V598.1H463.5V599.9H464.4V610.3H465.3V606.0H466.2V639.7H467.1V642.3H468.0V643.9H468.9V648.9H469.8V660.6H470.7V654.0H471.6V659.1H472.5V671.5H473.4V670.7H474.3V673.1H475.2V671.2H476.1V676.3H477.0V678.2H477.9V679.4H478.8V679.4Z" fill="#6e6e6e"/>
<path d="M459.0,679.4V678.3H459.9V677.9H460.8V674.3H461.7V665.5H462.6V658.3H463.5V638.6H464.4V636.5H465.3V634.3H466.2V594.2H467.1V589.3H468.0V568.8H468.9V566.0H469.8V574.7H470.7V587.4H471.6V579.7H472.5V579.3H473.4V582.8H474.3V623.4H475.2V632.5H476.1V654.7H477.0V647.6H477.9V649.3H478.8V654.2H479.7V658.0H480.6V664.6H481.5V664.4H482.4V668.9H483.3V671.3H484.2V669.4H485.1V672.2H486.0V675.4H486.9V672.6H487.8V674.8H488.7V674.5H489.6V677.7H490.5V678.3H491.4V677.9H492.3V677.3H493.2V678.8H494.1V679.4Z" fill="none" stroke="#000" stroke-width="0.7"/>
<path d="M428.9,679.4h0.9v-2.0h-0.9zM429.8,679.4h0.9v-2.8h-0.9zM437.0,679.4h0.9v-2.8h-0.9zM437.9,679.4h0.9v-1.7h-0.9zM438.8,679.4h0.9v-1.7h-0.9zM440.6,679.4h0.9v-3.3h-0.9zM444.2,679.4h0.9v-2.0h-0.9zM449.6,679.4h0.9v-2.4h-0.9zM450.5,679.4h0.9v-2.4h-0.9zM451.4,679.4h0.9v-2.8h-0.9zM455.0,679.4h0.9v-2.8h-0.9zM456.8,679.4h0.9v-1.4h-0.9zM463.1,679.4h0.9v-3.3h-0.9zM464.0,679.4h0.9v-3.3h-0.9zM466.7,679.4h0.9v-3.3h-0.9zM471.2,679.4h0.9v-2.0h-0.9zM472.1,679.4h0.9v-2.0h-0.9zM473.0,679.4h0.9v-2.4h-0.9zM473.9,679.4h0.9v-3.3h-0.9zM478.4,679.4h0.9v-1.4h-0.9zM479.3,679.4h0.9v-3.3h-0.9zM482.9,679.4h0.9v-2.0h-0.9zM484.7,679.4h0.9v-1.7h-0.9zM485.6,679.4h0.9v-1.4h-0.9zM487.4,679.4h0.9v-1.4h-0.9zM490.1,679.4h0.9v-2.8h-0.9zM491.0,679.4h0.9v-3.3h-0.9zM494.6,679.4h0.9v-2.4h-0.9zM495.5,679.4h0.9v-3.3h-0.9zM496.4,679.4h0.9v-2.0h-0.9zM497.3,679.4h0.9v-2.4h-0.9zM500.0,679.4h0.9v-2.8h-0.9zM504.5,679.4h0.9v-1.4h-0.9zM505.4,679.4h0.9v-2.4h-0.9zM507.2,679.4h0.9v-2.8h-0.9zM509.0,679.4h0.9v-1.7h-0.9zM510.8,679.4h0.9v-1.7h-0.9z" fill="#000"/>
</g>
<line x1="313.75" y1="562.40" x2="513.60" y2="562.40" stroke="#111" stroke-width="1.5" />
<line x1="513.60" y1="562.40" x2="513.60" y2="679.40" stroke="#444" stroke-width="1.4" />
<line x1="314.70" y1="561.65" x2="314.70" y2="680.35" stroke="#000" stroke-width="1.9" />
<line x1="314.70" y1="679.40" x2="514.30" y2="679.40" stroke="#000" stroke-width="1.9" />
<line x1="309.90" y1="562.40" x2="314.70" y2="562.40" stroke="#222" stroke-width="1.0" />
<text x="296.00" y="566.00" font-size="10.8" font-weight="normal" font-style="normal" textLength="11.07" lengthAdjust="spacingAndGlyphs" fill="#1a1a1a" >50</text>
<line x1="312.30" y1="569.71" x2="314.70" y2="569.71" stroke="#333" stroke-width="0.9" />
<line x1="312.30" y1="577.02" x2="314.70" y2="577.02" stroke="#333" stroke-width="0.9" />
<line x1="312.30" y1="584.34" x2="314.70" y2="584.34" stroke="#333" stroke-width="0.9" />
<line x1="309.90" y1="591.65" x2="314.70" y2="591.65" stroke="#222" stroke-width="1.0" />
<text x="296.00" y="595.25" font-size="10.8" font-weight="normal" font-style="normal" textLength="11.12" lengthAdjust="spacingAndGlyphs" fill="#1a1a1a" >38</text>
<line x1="312.30" y1="598.96" x2="314.70" y2="598.96" stroke="#333" stroke-width="0.9" />
<line x1="312.30" y1="606.27" x2="314.70" y2="606.27" stroke="#333" stroke-width="0.9" />
<line x1="312.30" y1="613.59" x2="314.70" y2="613.59" stroke="#333" stroke-width="0.9" />
<line x1="309.90" y1="620.90" x2="314.70" y2="620.90" stroke="#222" stroke-width="1.0" />
<text x="295.90" y="624.50" font-size="10.8" font-weight="normal" font-style="normal" textLength="11.23" lengthAdjust="spacingAndGlyphs" fill="#1a1a1a" >25</text>
<line x1="312.30" y1="628.21" x2="314.70" y2="628.21" stroke="#333" stroke-width="0.9" />
<line x1="312.30" y1="635.52" x2="314.70" y2="635.52" stroke="#333" stroke-width="0.9" />
<line x1="312.30" y1="642.84" x2="314.70" y2="642.84" stroke="#333" stroke-width="0.9" />
<line x1="309.90" y1="650.15" x2="314.70" y2="650.15" stroke="#222" stroke-width="1.0" />
<text x="295.62" y="653.75" font-size="10.8" font-weight="normal" font-style="normal" textLength="11.51" lengthAdjust="spacingAndGlyphs" fill="#1a1a1a" >13</text>
<line x1="312.30" y1="657.46" x2="314.70" y2="657.46" stroke="#333" stroke-width="0.9" />
<line x1="312.30" y1="664.77" x2="314.70" y2="664.77" stroke="#333" stroke-width="0.9" />
<line x1="312.30" y1="672.09" x2="314.70" y2="672.09" stroke="#333" stroke-width="0.9" />
<line x1="309.90" y1="679.40" x2="314.70" y2="679.40" stroke="#222" stroke-width="1.0" />
<text x="301.72" y="683.00" font-size="10.8" font-weight="normal" font-style="normal" textLength="5.33" lengthAdjust="spacingAndGlyphs" fill="#1a1a1a" >0</text>
<line x1="314.70" y1="679.40" x2="314.70" y2="684.00" stroke="#222" stroke-width="1.0" />
<text x="303.00" y="701.70" font-size="11.2" font-weight="normal" font-style="normal" textLength="10.34" lengthAdjust="spacingAndGlyphs" fill="#1a1a1a" >10</text>
<text x="314.02" y="695.00" font-size="7.8" font-weight="normal" font-style="normal" textLength="3.90" lengthAdjust="spacingAndGlyphs" fill="#1a1a1a" >0</text>
<line x1="325.75" y1="679.40" x2="325.75" y2="682.20" stroke="#333" stroke-width="0.9" />
<line x1="332.21" y1="679.40" x2="332.21" y2="682.20" stroke="#333" stroke-width="0.9" />
<line x1="336.79" y1="679.40" x2="336.79" y2="682.20" stroke="#333" stroke-width="0.9" />
<line x1="340.35" y1="679.40" x2="340.35" y2="682.20" stroke="#333" stroke-width="0.9" />
<line x1="343.26" y1="679.40" x2="343.26" y2="682.20" stroke="#333" stroke-width="0.9" />
<line x1="345.71" y1="679.40" x2="345.71" y2="682.20" stroke="#333" stroke-width="0.9" />
<line x1="347.84" y1="679.40" x2="347.84" y2="682.20" stroke="#333" stroke-width="0.9" />
<line x1="349.72" y1="679.40" x2="349.72" y2="682.20" stroke="#333" stroke-width="0.9" />
<line x1="351.40" y1="679.40" x2="351.40" y2="684.00" stroke="#222" stroke-width="1.0" />
<text x="339.70" y="701.70" font-size="11.2" font-weight="normal" font-style="normal" textLength="10.34" lengthAdjust="spacingAndGlyphs" fill="#1a1a1a" >10</text>
<text x="350.47" y="695.00" font-size="7.8" font-weight="normal" font-style="normal" textLength="3.90" lengthAdjust="spacingAndGlyphs" fill="#1a1a1a" >1</text>
<line x1="362.44" y1="679.40" x2="362.44" y2="682.20" stroke="#333" stroke-width="0.9" />
<line x1="368.91" y1="679.40" x2="368.91" y2="682.20" stroke="#333" stroke-width="0.9" />
<line x1="373.49" y1="679.40" x2="373.49" y2="682.20" stroke="#333" stroke-width="0.9" />
<line x1="377.05" y1="679.40" x2="377.05" y2="682.20" stroke="#333" stroke-width="0.9" />
<line x1="379.95" y1="679.40" x2="379.95" y2="682.20" stroke="#333" stroke-width="0.9" />
<line x1="382.41" y1="679.40" x2="382.41" y2="682.20" stroke="#333" stroke-width="0.9" />
<line x1="384.54" y1="679.40" x2="384.54" y2="682.20" stroke="#333" stroke-width="0.9" />
<line x1="386.42" y1="679.40" x2="386.42" y2="682.20" stroke="#333" stroke-width="0.9" />
<line x1="388.09" y1="679.40" x2="388.09" y2="684.00" stroke="#222" stroke-width="1.0" />
<text x="376.40" y="701.70" font-size="11.2" font-weight="normal" font-style="normal" textLength="10.34" lengthAdjust="spacingAndGlyphs" fill="#1a1a1a" >10</text>
<text x="387.34" y="695.00" font-size="7.8" font-weight="normal" font-style="normal" textLength="3.90" lengthAdjust="spacingAndGlyphs" fill="#1a1a1a" >2</text>
<line x1="399.14" y1="679.40" x2="399.14" y2="682.20" stroke="#333" stroke-width="0.9" />
<line x1="405.60" y1="679.40" x2="405.60" y2="682.20" stroke="#333" stroke-width="0.9" />
<line x1="410.19" y1="679.40" x2="410.19" y2="682.20" stroke="#333" stroke-width="0.9" />
<line x1="413.75" y1="679.40" x2="413.75" y2="682.20" stroke="#333" stroke-width="0.9" />
<line x1="416.65" y1="679.40" x2="416.65" y2="682.20" stroke="#333" stroke-width="0.9" />
<line x1="419.11" y1="679.40" x2="419.11" y2="682.20" stroke="#333" stroke-width="0.9" />
<line x1="421.24" y1="679.40" x2="421.24" y2="682.20" stroke="#333" stroke-width="0.9" />
<line x1="423.11" y1="679.40" x2="423.11" y2="682.20" stroke="#333" stroke-width="0.9" />
<line x1="424.79" y1="679.40" x2="424.79" y2="684.00" stroke="#222" stroke-width="1.0" />
<text x="413.09" y="701.70" font-size="11.2" font-weight="normal" font-style="normal" textLength="10.34" lengthAdjust="spacingAndGlyphs" fill="#1a1a1a" >10</text>
<text x="424.11" y="695.00" font-size="7.8" font-weight="normal" font-style="normal" textLength="3.90" lengthAdjust="spacingAndGlyphs" fill="#1a1a1a" >3</text>
<line x1="435.84" y1="679.40" x2="435.84" y2="682.20" stroke="#333" stroke-width="0.9" />
<line x1="442.30" y1="679.40" x2="442.30" y2="682.20" stroke="#333" stroke-width="0.9" />
<line x1="446.89" y1="679.40" x2="446.89" y2="682.20" stroke="#333" stroke-width="0.9" />
<line x1="450.44" y1="679.40" x2="450.44" y2="682.20" stroke="#333" stroke-width="0.9" />
<line x1="453.35" y1="679.40" x2="453.35" y2="682.20" stroke="#333" stroke-width="0.9" />
<line x1="455.81" y1="679.40" x2="455.81" y2="682.20" stroke="#333" stroke-width="0.9" />
<line x1="457.93" y1="679.40" x2="457.93" y2="682.20" stroke="#333" stroke-width="0.9" />
<line x1="459.81" y1="679.40" x2="459.81" y2="682.20" stroke="#333" stroke-width="0.9" />
<line x1="461.49" y1="679.40" x2="461.49" y2="684.00" stroke="#222" stroke-width="1.0" />
<text x="449.79" y="701.70" font-size="11.2" font-weight="normal" font-style="normal" textLength="10.34" lengthAdjust="spacingAndGlyphs" fill="#1a1a1a" >10</text>
<text x="460.95" y="695.00" font-size="7.8" font-weight="normal" font-style="normal" textLength="3.90" lengthAdjust="spacingAndGlyphs" fill="#1a1a1a" >4</text>
<line x1="472.54" y1="679.40" x2="472.54" y2="682.20" stroke="#333" stroke-width="0.9" />
<line x1="479.00" y1="679.40" x2="479.00" y2="682.20" stroke="#333" stroke-width="0.9" />
<line x1="483.58" y1="679.40" x2="483.58" y2="682.20" stroke="#333" stroke-width="0.9" />
<line x1="487.14" y1="679.40" x2="487.14" y2="682.20" stroke="#333" stroke-width="0.9" />
<line x1="490.05" y1="679.40" x2="490.05" y2="682.20" stroke="#333" stroke-width="0.9" />
<line x1="492.50" y1="679.40" x2="492.50" y2="682.20" stroke="#333" stroke-width="0.9" />
<line x1="494.63" y1="679.40" x2="494.63" y2="682.20" stroke="#333" stroke-width="0.9" />
<line x1="496.51" y1="679.40" x2="496.51" y2="682.20" stroke="#333" stroke-width="0.9" />
<line x1="498.19" y1="679.40" x2="498.19" y2="684.00" stroke="#222" stroke-width="1.0" />
<text x="486.49" y="701.70" font-size="11.2" font-weight="normal" font-style="normal" textLength="10.34" lengthAdjust="spacingAndGlyphs" fill="#1a1a1a" >10</text>
<text x="497.51" y="695.00" font-size="7.8" font-weight="normal" font-style="normal" textLength="3.90" lengthAdjust="spacingAndGlyphs" fill="#1a1a1a" >5</text>
<line x1="509.23" y1="679.40" x2="509.23" y2="682.20" stroke="#333" stroke-width="0.9" />
<text x="323.93" y="589.30" font-size="15" font-weight="normal" font-style="italic" textLength="44.90" lengthAdjust="spacingAndGlyphs" fill="#000" >OPM1</text>
<clipPath id="cR1"><rect x="314.7" y="709.8" width="198.90000000000003" height="116.70000000000005"/></clipPath>
<g clip-path="url(#cR1)">
<path d="M453.0,826.5V825.3H453.9V822.5H454.8V820.5H455.7V814.2H456.6V811.7H457.5V810.0H458.4V796.9H459.3V778.3H460.2V777.7H461.1V772.4H462.0V765.8H462.9V760.9H463.8V755.2H464.7V741.1H465.6V739.3H466.5V714.1H467.4V728.3H468.3V715.4H469.2V715.9H470.1V724.2H471.0V707.8H471.9V715.4H472.8V731.3H473.7V737.7H474.6V748.4H475.5V773.6H476.4V773.5H477.3V779.1H478.2V798.8H479.1V797.6H480.0V798.8H480.9V804.0H481.8V816.6H482.7V821.0H483.6V824.4H484.5V823.5H485.4V825.4H486.3V826.5Z" fill="#000"/>
<path d="M442.0,826.5V826.5H442.9V822.7H443.8V824.8H444.7V822.3H445.6V820.9H446.5V818.1H447.4V819.2H448.3V813.4H449.2V818.5H450.1V808.0H451.0V801.8H451.9V790.9H452.8V799.3H453.7V778.1H454.6V757.4H455.5V766.7H456.4V750.2H457.3V741.2H458.2V736.6H459.1V726.0H460.0V712.6H460.9V717.4H461.8V714.2H462.7V707.8H463.6V711.9H464.5V718.4H465.4V722.8H466.3V747.0H467.2V738.5H468.1V765.5H469.0V775.1H469.9V792.7H470.8V794.4H471.7V792.6H472.6V806.7H473.5V807.6H474.4V809.7H475.3V816.8H476.2V812.8H477.1V812.9H478.0V816.5H478.9V821.0H479.8V823.9H480.7V826.5H481.6V826.5Z" fill="#6e6e6e"/>
<path d="M453.0,826.5V825.3H453.9V822.5H454.8V820.5H455.7V814.2H456.6V811.7H457.5V810.0H458.4V796.9H459.3V778.3H460.2V777.7H461.1V772.4H462.0V765.8H462.9V760.9H463.8V755.2H464.7V741.1H465.6V739.3H466.5V714.1H467.4V728.3H468.3V715.4H469.2V715.9H470.1V724.2H471.0V707.8H471.9V715.4H472.8V731.3H473.7V737.7H474.6V748.4H475.5V773.6H476.4V773.5H477.3V779.1H478.2V798.8H479.1V797.6H480.0V798.8H480.9V804.0H481.8V816.6H482.7V821.0H483.6V824.4H484.5V823.5H485.4V825.4H486.3V826.5Z" fill="none" stroke="#000" stroke-width="0.7"/>
<path d="M430.9,826.5h0.9v-1.4h-0.9zM434.5,826.5h0.9v-1.4h-0.9zM436.3,826.5h0.9v-2.0h-0.9zM438.1,826.5h0.9v-1.7h-0.9zM441.7,826.5h0.9v-1.4h-0.9zM444.4,826.5h0.9v-2.0h-0.9zM448.0,826.5h0.9v-1.4h-0.9zM451.6,826.5h0.9v-2.8h-0.9zM453.4,826.5h0.9v-1.7h-0.9zM454.3,826.5h0.9v-1.4h-0.9zM456.1,826.5h0.9v-2.8h-0.9zM457.9,826.5h0.9v-1.4h-0.9zM459.7,826.5h0.9v-3.3h-0.9zM462.4,826.5h0.9v-1.4h-0.9zM472.3,826.5h0.9v-2.8h-0.9zM475.0,826.5h0.9v-2.0h-0.9zM480.4,826.5h0.9v-1.7h-0.9zM487.6,826.5h0.9v-2.4h-0.9zM490.3,826.5h0.9v-3.3h-0.9zM492.1,826.5h0.9v-2.8h-0.9zM495.7,826.5h0.9v-2.0h-0.9zM499.3,826.5h0.9v-1.7h-0.9zM500.2,826.5h0.9v-2.8h-0.9zM501.1,826.5h0.9v-2.4h-0.9zM502.9,826.5h0.9v-2.0h-0.9zM504.7,826.5h0.9v-2.4h-0.9z" fill="#000"/>
</g>
<line x1="313.75" y1="709.80" x2="513.60" y2="709.80" stroke="#111" stroke-width="1.5" />
<line x1="513.60" y1="709.80" x2="513.60" y2="826.50" stroke="#444" stroke-width="1.4" />
<line x1="314.70" y1="709.05" x2="314.70" y2="827.45" stroke="#000" stroke-width="1.9" />
<line x1="314.70" y1="826.50" x2="514.30" y2="826.50" stroke="#000" stroke-width="1.9" />
<line x1="309.90" y1="709.80" x2="314.70" y2="709.80" stroke="#222" stroke-width="1.0" />
<text x="296.00" y="713.40" font-size="10.8" font-weight="normal" font-style="normal" textLength="11.07" lengthAdjust="spacingAndGlyphs" fill="#1a1a1a" >50</text>
<line x1="312.30" y1="717.09" x2="314.70" y2="717.09" stroke="#333" stroke-width="0.9" />
<line x1="312.30" y1="724.39" x2="314.70" y2="724.39" stroke="#333" stroke-width="0.9" />
<line x1="312.30" y1="731.68" x2="314.70" y2="731.68" stroke="#333" stroke-width="0.9" />
<line x1="309.90" y1="738.97" x2="314.70" y2="738.97" stroke="#222" stroke-width="1.0" />
<text x="296.00" y="742.57" font-size="10.8" font-weight="normal" font-style="normal" textLength="11.12" lengthAdjust="spacingAndGlyphs" fill="#1a1a1a" >38</text>
<line x1="312.30" y1="746.27" x2="314.70" y2="746.27" stroke="#333" stroke-width="0.9" />
<line x1="312.30" y1="753.56" x2="314.70" y2="753.56" stroke="#333" stroke-width="0.9" />
<line x1="312.30" y1="760.86" x2="314.70" y2="760.86" stroke="#333" stroke-width="0.9" />
<line x1="309.90" y1="768.15" x2="314.70" y2="768.15" stroke="#222" stroke-width="1.0" />
<text x="295.90" y="771.75" font-size="10.8" font-weight="normal" font-style="normal" textLength="11.23" lengthAdjust="spacingAndGlyphs" fill="#1a1a1a" >25</text>
<line x1="312.30" y1="775.44" x2="314.70" y2="775.44" stroke="#333" stroke-width="0.9" />
<line x1="312.30" y1="782.74" x2="314.70" y2="782.74" stroke="#333" stroke-width="0.9" />
<line x1="312.30" y1="790.03" x2="314.70" y2="790.03" stroke="#333" stroke-width="0.9" />
<line x1="309.90" y1="797.33" x2="314.70" y2="797.33" stroke="#222" stroke-width="1.0" />
<text x="295.62" y="800.93" font-size="10.8" font-weight="normal" font-style="normal" textLength="11.51" lengthAdjust="spacingAndGlyphs" fill="#1a1a1a" >13</text>
<line x1="312.30" y1="804.62" x2="314.70" y2="804.62" stroke="#333" stroke-width="0.9" />
<line x1="312.30" y1="811.91" x2="314.70" y2="811.91" stroke="#333" stroke-width="0.9" />
<line x1="312.30" y1="819.21" x2="314.70" y2="819.21" stroke="#333" stroke-width="0.9" />
<line x1="309.90" y1="826.50" x2="314.70" y2="826.50" stroke="#222" stroke-width="1.0" />
<text x="301.72" y="830.10" font-size="10.8" font-weight="normal" font-style="normal" textLength="5.33" lengthAdjust="spacingAndGlyphs" fill="#1a1a1a" >0</text>
<line x1="314.70" y1="826.50" x2="314.70" y2="831.10" stroke="#222" stroke-width="1.0" />
<text x="303.00" y="848.80" font-size="11.2" font-weight="normal" font-style="normal" textLength="10.34" lengthAdjust="spacingAndGlyphs" fill="#1a1a1a" >10</text>
<text x="314.02" y="842.10" font-size="7.8" font-weight="normal" font-style="normal" textLength="3.90" lengthAdjust="spacingAndGlyphs" fill="#1a1a1a" >0</text>
<line x1="325.75" y1="826.50" x2="325.75" y2="829.30" stroke="#333" stroke-width="0.9" />
<line x1="332.21" y1="826.50" x2="332.21" y2="829.30" stroke="#333" stroke-width="0.9" />
<line x1="336.79" y1="826.50" x2="336.79" y2="829.30" stroke="#333" stroke-width="0.9" />
<line x1="340.35" y1="826.50" x2="340.35" y2="829.30" stroke="#333" stroke-width="0.9" />
<line x1="343.26" y1="826.50" x2="343.26" y2="829.30" stroke="#333" stroke-width="0.9" />
<line x1="345.71" y1="826.50" x2="345.71" y2="829.30" stroke="#333" stroke-width="0.9" />
<line x1="347.84" y1="826.50" x2="347.84" y2="829.30" stroke="#333" stroke-width="0.9" />
<line x1="349.72" y1="826.50" x2="349.72" y2="829.30" stroke="#333" stroke-width="0.9" />
<line x1="351.40" y1="826.50" x2="351.40" y2="831.10" stroke="#222" stroke-width="1.0" />
<text x="339.70" y="848.80" font-size="11.2" font-weight="normal" font-style="normal" textLength="10.34" lengthAdjust="spacingAndGlyphs" fill="#1a1a1a" >10</text>
<text x="350.47" y="842.10" font-size="7.8" font-weight="normal" font-style="normal" textLength="3.90" lengthAdjust="spacingAndGlyphs" fill="#1a1a1a" >1</text>
<line x1="362.44" y1="826.50" x2="362.44" y2="829.30" stroke="#333" stroke-width="0.9" />
<line x1="368.91" y1="826.50" x2="368.91" y2="829.30" stroke="#333" stroke-width="0.9" />
<line x1="373.49" y1="826.50" x2="373.49" y2="829.30" stroke="#333" stroke-width="0.9" />
<line x1="377.05" y1="826.50" x2="377.05" y2="829.30" stroke="#333" stroke-width="0.9" />
<line x1="379.95" y1="826.50" x2="379.95" y2="829.30" stroke="#333" stroke-width="0.9" />
<line x1="382.41" y1="826.50" x2="382.41" y2="829.30" stroke="#333" stroke-width="0.9" />
<line x1="384.54" y1="826.50" x2="384.54" y2="829.30" stroke="#333" stroke-width="0.9" />
<line x1="386.42" y1="826.50" x2="386.42" y2="829.30" stroke="#333" stroke-width="0.9" />
<line x1="388.09" y1="826.50" x2="388.09" y2="831.10" stroke="#222" stroke-width="1.0" />
<text x="376.40" y="848.80" font-size="11.2" font-weight="normal" font-style="normal" textLength="10.34" lengthAdjust="spacingAndGlyphs" fill="#1a1a1a" >10</text>
<text x="387.34" y="842.10" font-size="7.8" font-weight="normal" font-style="normal" textLength="3.90" lengthAdjust="spacingAndGlyphs" fill="#1a1a1a" >2</text>
<line x1="399.14" y1="826.50" x2="399.14" y2="829.30" stroke="#333" stroke-width="0.9" />
<line x1="405.60" y1="826.50" x2="405.60" y2="829.30" stroke="#333" stroke-width="0.9" />
<line x1="410.19" y1="826.50" x2="410.19" y2="829.30" stroke="#333" stroke-width="0.9" />
<line x1="413.75" y1="826.50" x2="413.75" y2="829.30" stroke="#333" stroke-width="0.9" />
<line x1="416.65" y1="826.50" x2="416.65" y2="829.30" stroke="#333" stroke-width="0.9" />
<line x1="419.11" y1="826.50" x2="419.11" y2="829.30" stroke="#333" stroke-width="0.9" />
<line x1="421.24" y1="826.50" x2="421.24" y2="829.30" stroke="#333" stroke-width="0.9" />
<line x1="423.11" y1="826.50" x2="423.11" y2="829.30" stroke="#333" stroke-width="0.9" />
<line x1="424.79" y1="826.50" x2="424.79" y2="831.10" stroke="#222" stroke-width="1.0" />
<text x="413.09" y="848.80" font-size="11.2" font-weight="normal" font-style="normal" textLength="10.34" lengthAdjust="spacingAndGlyphs" fill="#1a1a1a" >10</text>
<text x="424.11" y="842.10" font-size="7.8" font-weight="normal" font-style="normal" textLength="3.90" lengthAdjust="spacingAndGlyphs" fill="#1a1a1a" >3</text>
<line x1="435.84" y1="826.50" x2="435.84" y2="829.30" stroke="#333" stroke-width="0.9" />
<line x1="442.30" y1="826.50" x2="442.30" y2="829.30" stroke="#333" stroke-width="0.9" />
<line x1="446.89" y1="826.50" x2="446.89" y2="829.30" stroke="#333" stroke-width="0.9" />
<line x1="450.44" y1="826.50" x2="450.44" y2="829.30" stroke="#333" stroke-width="0.9" />
<line x1="453.35" y1="826.50" x2="453.35" y2="829.30" stroke="#333" stroke-width="0.9" />
<line x1="455.81" y1="826.50" x2="455.81" y2="829.30" stroke="#333" stroke-width="0.9" />
<line x1="457.93" y1="826.50" x2="457.93" y2="829.30" stroke="#333" stroke-width="0.9" />
<line x1="459.81" y1="826.50" x2="459.81" y2="829.30" stroke="#333" stroke-width="0.9" />
<line x1="461.49" y1="826.50" x2="461.49" y2="831.10" stroke="#222" stroke-width="1.0" />
<text x="449.79" y="848.80" font-size="11.2" font-weight="normal" font-style="normal" textLength="10.34" lengthAdjust="spacingAndGlyphs" fill="#1a1a1a" >10</text>
<text x="460.95" y="842.10" font-size="7.8" font-weight="normal" font-style="normal" textLength="3.90" lengthAdjust="spacingAndGlyphs" fill="#1a1a1a" >4</text>
<line x1="472.54" y1="826.50" x2="472.54" y2="829.30" stroke="#333" stroke-width="0.9" />
<line x1="479.00" y1="826.50" x2="479.00" y2="829.30" stroke="#333" stroke-width="0.9" />
<line x1="483.58" y1="826.50" x2="483.58" y2="829.30" stroke="#333" stroke-width="0.9" />
<line x1="487.14" y1="826.50" x2="487.14" y2="829.30" stroke="#333" stroke-width="0.9" />
<line x1="490.05" y1="826.50" x2="490.05" y2="829.30" stroke="#333" stroke-width="0.9" />
<line x1="492.50" y1="826.50" x2="492.50" y2="829.30" stroke="#333" stroke-width="0.9" />
<line x1="494.63" y1="826.50" x2="494.63" y2="829.30" stroke="#333" stroke-width="0.9" />
<line x1="496.51" y1="826.50" x2="496.51" y2="829.30" stroke="#333" stroke-width="0.9" />
<line x1="498.19" y1="826.50" x2="498.19" y2="831.10" stroke="#222" stroke-width="1.0" />
<text x="486.49" y="848.80" font-size="11.2" font-weight="normal" font-style="normal" textLength="10.34" lengthAdjust="spacingAndGlyphs" fill="#1a1a1a" >10</text>
<text x="497.51" y="842.10" font-size="7.8" font-weight="normal" font-style="normal" textLength="3.90" lengthAdjust="spacingAndGlyphs" fill="#1a1a1a" >5</text>
<line x1="509.23" y1="826.50" x2="509.23" y2="829.30" stroke="#333" stroke-width="0.9" />
<text x="327.53" y="735.30" font-size="15" font-weight="normal" font-style="italic" textLength="55.87" lengthAdjust="spacingAndGlyphs" fill="#000" >KMS-11</text>
<clipPath id="cR2"><rect x="314.7" y="857.5" width="198.90000000000003" height="117.70000000000005"/></clipPath>
<g clip-path="url(#cR2)">
<path d="M449.0,975.2V975.2H449.9V973.2H450.8V968.2H451.7V963.9H452.6V957.0H453.5V939.1H454.4V941.3H455.3V917.3H456.2V886.8H457.1V894.0H458.0V879.5H458.9V858.5H459.8V863.8H460.7V879.4H461.6V875.1H462.5V905.0H463.4V935.9H464.3V926.8H465.2V952.3H466.1V954.3H467.0V958.9H467.9V964.5H468.8V960.5H469.7V970.8H470.6V965.6H471.5V969.8H472.4V966.4H473.3V972.6H474.2V972.0H475.1V974.3H476.0V974.8H476.9V975.2H477.8V975.2Z" fill="#000"/>
<path d="M430.0,975.2V975.2H430.9V970.7H431.8V971.6H432.7V963.5H433.6V959.2H434.5V961.3H435.4V954.9H436.3V946.3H437.2V943.5H438.1V935.4H439.0V937.4H439.9V926.5H440.8V918.1H441.7V915.9H442.6V910.4H443.5V887.6H444.4V903.6H445.3V884.7H446.2V869.0H447.1V858.1H448.0V855.5H448.9V857.4H449.8V868.5H450.7V858.4H451.6V895.0H452.5V877.6H453.4V913.0H454.3V931.7H455.2V941.2H456.1V938.2H457.0V971.5H457.9V973.3H458.8V969.7H459.7V975.2H460.6V975.2H461.5V975.2Z" fill="#6e6e6e"/>
<path d="M449.0,975.2V975.2H449.9V973.2H450.8V968.2H451.7V963.9H452.6V957.0H453.5V939.1H454.4V941.3H455.3V917.3H456.2V886.8H457.1V894.0H458.0V879.5H458.9V858.5H459.8V863.8H460.7V879.4H461.6V875.1H462.5V905.0H463.4V935.9H464.3V926.8H465.2V952.3H466.1V954.3H467.0V958.9H467.9V964.5H468.8V960.5H469.7V970.8H470.6V965.6H471.5V969.8H472.4V966.4H473.3V972.6H474.2V972.0H475.1V974.3H476.0V974.8H476.9V975.2H477.8V975.2Z" fill="none" stroke="#000" stroke-width="0.7"/>
<path d="M426.8,975.2h0.9v-1.7h-0.9zM428.6,975.2h0.9v-2.4h-0.9zM434.0,975.2h0.9v-2.0h-0.9zM434.9,975.2h0.9v-3.3h-0.9zM435.8,975.2h0.9v-3.3h-0.9zM436.7,975.2h0.9v-1.4h-0.9zM438.5,975.2h0.9v-1.7h-0.9zM439.4,975.2h0.9v-2.4h-0.9zM441.2,975.2h0.9v-1.4h-0.9zM443.9,975.2h0.9v-2.0h-0.9zM444.8,975.2h0.9v-3.3h-0.9zM446.6,975.2h0.9v-2.8h-0.9zM448.4,975.2h0.9v-3.3h-0.9zM450.2,975.2h0.9v-2.4h-0.9zM452.0,975.2h0.9v-3.3h-0.9zM452.9,975.2h0.9v-2.4h-0.9zM455.6,975.2h0.9v-2.0h-0.9zM457.4,975.2h0.9v-2.8h-0.9zM462.8,975.2h0.9v-2.8h-0.9zM464.6,975.2h0.9v-1.4h-0.9zM465.5,975.2h0.9v-2.0h-0.9zM468.2,975.2h0.9v-1.7h-0.9zM470.0,975.2h0.9v-3.3h-0.9zM470.9,975.2h0.9v-1.4h-0.9zM471.8,975.2h0.9v-1.7h-0.9zM473.6,975.2h0.9v-2.8h-0.9zM474.5,975.2h0.9v-1.4h-0.9zM477.2,975.2h0.9v-2.8h-0.9zM479.9,975.2h0.9v-2.8h-0.9zM481.7,975.2h0.9v-3.3h-0.9zM491.6,975.2h0.9v-1.4h-0.9zM492.5,975.2h0.9v-1.7h-0.9zM495.2,975.2h0.9v-1.7h-0.9zM503.3,975.2h0.9v-2.0h-0.9zM505.1,975.2h0.9v-2.4h-0.9zM506.0,975.2h0.9v-2.4h-0.9z" fill="#000"/>
</g>
<line x1="313.75" y1="857.50" x2="513.60" y2="857.50" stroke="#111" stroke-width="1.5" />
<line x1="513.60" y1="857.50" x2="513.60" y2="975.20" stroke="#444" stroke-width="1.4" />
<line x1="314.70" y1="856.75" x2="314.70" y2="976.15" stroke="#000" stroke-width="1.9" />
<line x1="314.70" y1="975.20" x2="514.30" y2="975.20" stroke="#000" stroke-width="1.9" />
<line x1="309.90" y1="857.50" x2="314.70" y2="857.50" stroke="#222" stroke-width="1.0" />
<text x="296.00" y="861.10" font-size="10.8" font-weight="normal" font-style="normal" textLength="11.07" lengthAdjust="spacingAndGlyphs" fill="#1a1a1a" >50</text>
<line x1="312.30" y1="864.86" x2="314.70" y2="864.86" stroke="#333" stroke-width="0.9" />
<line x1="312.30" y1="872.21" x2="314.70" y2="872.21" stroke="#333" stroke-width="0.9" />
<line x1="312.30" y1="879.57" x2="314.70" y2="879.57" stroke="#333" stroke-width="0.9" />
<line x1="309.90" y1="886.92" x2="314.70" y2="886.92" stroke="#222" stroke-width="1.0" />
<text x="296.00" y="890.52" font-size="10.8" font-weight="normal" font-style="normal" textLength="11.12" lengthAdjust="spacingAndGlyphs" fill="#1a1a1a" >38</text>
<line x1="312.30" y1="894.28" x2="314.70" y2="894.28" stroke="#333" stroke-width="0.9" />
<line x1="312.30" y1="901.64" x2="314.70" y2="901.64" stroke="#333" stroke-width="0.9" />
<line x1="312.30" y1="908.99" x2="314.70" y2="908.99" stroke="#333" stroke-width="0.9" />
<line x1="309.90" y1="916.35" x2="314.70" y2="916.35" stroke="#222" stroke-width="1.0" />
<text x="295.90" y="919.95" font-size="10.8" font-weight="normal" font-style="normal" textLength="11.23" lengthAdjust="spacingAndGlyphs" fill="#1a1a1a" >25</text>
<line x1="312.30" y1="923.71" x2="314.70" y2="923.71" stroke="#333" stroke-width="0.9" />
<line x1="312.30" y1="931.06" x2="314.70" y2="931.06" stroke="#333" stroke-width="0.9" />
<line x1="312.30" y1="938.42" x2="314.70" y2="938.42" stroke="#333" stroke-width="0.9" />
<line x1="309.90" y1="945.78" x2="314.70" y2="945.78" stroke="#222" stroke-width="1.0" />
<text x="295.62" y="949.38" font-size="10.8" font-weight="normal" font-style="normal" textLength="11.51" lengthAdjust="spacingAndGlyphs" fill="#1a1a1a" >13</text>
<line x1="312.30" y1="953.13" x2="314.70" y2="953.13" stroke="#333" stroke-width="0.9" />
<line x1="312.30" y1="960.49" x2="314.70" y2="960.49" stroke="#333" stroke-width="0.9" />
<line x1="312.30" y1="967.84" x2="314.70" y2="967.84" stroke="#333" stroke-width="0.9" />
<line x1="309.90" y1="975.20" x2="314.70" y2="975.20" stroke="#222" stroke-width="1.0" />
<text x="301.72" y="978.80" font-size="10.8" font-weight="normal" font-style="normal" textLength="5.33" lengthAdjust="spacingAndGlyphs" fill="#1a1a1a" >0</text>
<line x1="314.70" y1="975.20" x2="314.70" y2="979.80" stroke="#222" stroke-width="1.0" />
<text x="303.00" y="997.50" font-size="11.2" font-weight="normal" font-style="normal" textLength="10.34" lengthAdjust="spacingAndGlyphs" fill="#1a1a1a" >10</text>
<text x="314.02" y="990.80" font-size="7.8" font-weight="normal" font-style="normal" textLength="3.90" lengthAdjust="spacingAndGlyphs" fill="#1a1a1a" >0</text>
<line x1="325.75" y1="975.20" x2="325.75" y2="978.00" stroke="#333" stroke-width="0.9" />
<line x1="332.21" y1="975.20" x2="332.21" y2="978.00" stroke="#333" stroke-width="0.9" />
<line x1="336.79" y1="975.20" x2="336.79" y2="978.00" stroke="#333" stroke-width="0.9" />
<line x1="340.35" y1="975.20" x2="340.35" y2="978.00" stroke="#333" stroke-width="0.9" />
<line x1="343.26" y1="975.20" x2="343.26" y2="978.00" stroke="#333" stroke-width="0.9" />
<line x1="345.71" y1="975.20" x2="345.71" y2="978.00" stroke="#333" stroke-width="0.9" />
<line x1="347.84" y1="975.20" x2="347.84" y2="978.00" stroke="#333" stroke-width="0.9" />
<line x1="349.72" y1="975.20" x2="349.72" y2="978.00" stroke="#333" stroke-width="0.9" />
<line x1="351.40" y1="975.20" x2="351.40" y2="979.80" stroke="#222" stroke-width="1.0" />
<text x="339.70" y="997.50" font-size="11.2" font-weight="normal" font-style="normal" textLength="10.34" lengthAdjust="spacingAndGlyphs" fill="#1a1a1a" >10</text>
<text x="350.47" y="990.80" font-size="7.8" font-weight="normal" font-style="normal" textLength="3.90" lengthAdjust="spacingAndGlyphs" fill="#1a1a1a" >1</text>
<line x1="362.44" y1="975.20" x2="362.44" y2="978.00" stroke="#333" stroke-width="0.9" />
<line x1="368.91" y1="975.20" x2="368.91" y2="978.00" stroke="#333" stroke-width="0.9" />
<line x1="373.49" y1="975.20" x2="373.49" y2="978.00" stroke="#333" stroke-width="0.9" />
<line x1="377.05" y1="975.20" x2="377.05" y2="978.00" stroke="#333" stroke-width="0.9" />
<line x1="379.95" y1="975.20" x2="379.95" y2="978.00" stroke="#333" stroke-width="0.9" />
<line x1="382.41" y1="975.20" x2="382.41" y2="978.00" stroke="#333" stroke-width="0.9" />
<line x1="384.54" y1="975.20" x2="384.54" y2="978.00" stroke="#333" stroke-width="0.9" />
<line x1="386.42" y1="975.20" x2="386.42" y2="978.00" stroke="#333" stroke-width="0.9" />
<line x1="388.09" y1="975.20" x2="388.09" y2="979.80" stroke="#222" stroke-width="1.0" />
<text x="376.40" y="997.50" font-size="11.2" font-weight="normal" font-style="normal" textLength="10.34" lengthAdjust="spacingAndGlyphs" fill="#1a1a1a" >10</text>
<text x="387.34" y="990.80" font-size="7.8" font-weight="normal" font-style="normal" textLength="3.90" lengthAdjust="spacingAndGlyphs" fill="#1a1a1a" >2</text>
<line x1="399.14" y1="975.20" x2="399.14" y2="978.00" stroke="#333" stroke-width="0.9" />
<line x1="405.60" y1="975.20" x2="405.60" y2="978.00" stroke="#333" stroke-width="0.9" />
<line x1="410.19" y1="975.20" x2="410.19" y2="978.00" stroke="#333" stroke-width="0.9" />
<line x1="413.75" y1="975.20" x2="413.75" y2="978.00" stroke="#333" stroke-width="0.9" />
<line x1="416.65" y1="975.20" x2="416.65" y2="978.00" stroke="#333" stroke-width="0.9" />
<line x1="419.11" y1="975.20" x2="419.11" y2="978.00" stroke="#333" stroke-width="0.9" />
<line x1="421.24" y1="975.20" x2="421.24" y2="978.00" stroke="#333" stroke-width="0.9" />
<line x1="423.11" y1="975.20" x2="423.11" y2="978.00" stroke="#333" stroke-width="0.9" />
<line x1="424.79" y1="975.20" x2="424.79" y2="979.80" stroke="#222" stroke-width="1.0" />
<text x="413.09" y="997.50" font-size="11.2" font-weight="normal" font-style="normal" textLength="10.34" lengthAdjust="spacingAndGlyphs" fill="#1a1a1a" >10</text>
<text x="424.11" y="990.80" font-size="7.8" font-weight="normal" font-style="normal" textLength="3.90" lengthAdjust="spacingAndGlyphs" fill="#1a1a1a" >3</text>
<line x1="435.84" y1="975.20" x2="435.84" y2="978.00" stroke="#333" stroke-width="0.9" />
<line x1="442.30" y1="975.20" x2="442.30" y2="978.00" stroke="#333" stroke-width="0.9" />
<line x1="446.89" y1="975.20" x2="446.89" y2="978.00" stroke="#333" stroke-width="0.9" />
<line x1="450.44" y1="975.20" x2="450.44" y2="978.00" stroke="#333" stroke-width="0.9" />
<line x1="453.35" y1="975.20" x2="453.35" y2="978.00" stroke="#333" stroke-width="0.9" />
<line x1="455.81" y1="975.20" x2="455.81" y2="978.00" stroke="#333" stroke-width="0.9" />
<line x1="457.93" y1="975.20" x2="457.93" y2="978.00" stroke="#333" stroke-width="0.9" />
<line x1="459.81" y1="975.20" x2="459.81" y2="978.00" stroke="#333" stroke-width="0.9" />
<line x1="461.49" y1="975.20" x2="461.49" y2="979.80" stroke="#222" stroke-width="1.0" />
<text x="449.79" y="997.50" font-size="11.2" font-weight="normal" font-style="normal" textLength="10.34" lengthAdjust="spacingAndGlyphs" fill="#1a1a1a" >10</text>
<text x="460.95" y="990.80" font-size="7.8" font-weight="normal" font-style="normal" textLength="3.90" lengthAdjust="spacingAndGlyphs" fill="#1a1a1a" >4</text>
<line x1="472.54" y1="975.20" x2="472.54" y2="978.00" stroke="#333" stroke-width="0.9" />
<line x1="479.00" y1="975.20" x2="479.00" y2="978.00" stroke="#333" stroke-width="0.9" />
<line x1="483.58" y1="975.20" x2="483.58" y2="978.00" stroke="#333" stroke-width="0.9" />
<line x1="487.14" y1="975.20" x2="487.14" y2="978.00" stroke="#333" stroke-width="0.9" />
<line x1="490.05" y1="975.20" x2="490.05" y2="978.00" stroke="#333" stroke-width="0.9" />
<line x1="492.50" y1="975.20" x2="492.50" y2="978.00" stroke="#333" stroke-width="0.9" />
<line x1="494.63" y1="975.20" x2="494.63" y2="978.00" stroke="#333" stroke-width="0.9" />
<line x1="496.51" y1="975.20" x2="496.51" y2="978.00" stroke="#333" stroke-width="0.9" />
<line x1="498.19" y1="975.20" x2="498.19" y2="979.80" stroke="#222" stroke-width="1.0" />
<text x="486.49" y="997.50" font-size="11.2" font-weight="normal" font-style="normal" textLength="10.34" lengthAdjust="spacingAndGlyphs" fill="#1a1a1a" >10</text>
<text x="497.51" y="990.80" font-size="7.8" font-weight="normal" font-style="normal" textLength="3.90" lengthAdjust="spacingAndGlyphs" fill="#1a1a1a" >5</text>
<line x1="509.23" y1="975.20" x2="509.23" y2="978.00" stroke="#333" stroke-width="0.9" />
<text x="324.14" y="885.10" font-size="15" font-weight="normal" font-style="italic" textLength="57.31" lengthAdjust="spacingAndGlyphs" fill="#000" >OCIMy5</text>
<clipPath id="cR3"><rect x="314.7" y="1005.0" width="198.90000000000003" height="117.70000000000005"/></clipPath>
<g clip-path="url(#cR3)">
<path d="M456.0,1122.7V1118.9H456.9V1119.7H457.8V1118.5H458.7V1112.5H459.6V1104.2H460.5V1103.6H461.4V1096.8H462.3V1095.0H463.2V1080.7H464.1V1065.9H465.0V1065.7H465.9V1058.0H466.8V1020.3H467.7V1015.8H468.6V1014.1H469.5V1005.5H470.4V1019.2H471.3V1045.8H472.2V1034.4H473.1V1048.3H474.0V1064.3H474.9V1078.4H475.8V1077.8H476.7V1086.2H477.6V1090.0H478.5V1093.7H479.4V1103.4H480.3V1104.7H481.2V1101.8H482.1V1114.5H483.0V1114.5H483.9V1107.6H484.8V1116.4H485.7V1117.4H486.6V1117.0H487.5V1114.4H488.4V1120.1H489.3V1121.7H490.2V1122.7Z" fill="#000"/>
<path d="M437.0,1122.7V1121.1H437.9V1119.7H438.8V1119.9H439.7V1116.7H440.6V1111.7H441.5V1113.3H442.4V1111.5H443.3V1108.2H444.2V1094.1H445.1V1099.4H446.0V1084.7H446.9V1082.4H447.8V1077.1H448.7V1069.3H449.6V1067.3H450.5V1068.7H451.4V1042.2H452.3V1037.1H453.2V1011.0H454.1V1009.7H455.0V1016.5H455.9V1011.6H456.8V1016.3H457.7V1003.0H458.6V1015.4H459.5V1003.0H460.4V1034.2H461.3V1033.5H462.2V1067.3H463.1V1080.4H464.0V1092.3H464.9V1081.7H465.8V1092.1H466.7V1106.6H467.6V1108.4H468.5V1117.2H469.4V1118.2H470.3V1116.8H471.2V1122.7H472.1V1122.7Z" fill="#6e6e6e"/>
<path d="M456.0,1122.7V1118.9H456.9V1119.7H457.8V1118.5H458.7V1112.5H459.6V1104.2H460.5V1103.6H461.4V1096.8H462.3V1095.0H463.2V1080.7H464.1V1065.9H465.0V1065.7H465.9V1058.0H466.8V1020.3H467.7V1015.8H468.6V1014.1H469.5V1005.5H470.4V1019.2H471.3V1045.8H472.2V1034.4H473.1V1048.3H474.0V1064.3H474.9V1078.4H475.8V1077.8H476.7V1086.2H477.6V1090.0H478.5V1093.7H479.4V1103.4H480.3V1104.7H481.2V1101.8H482.1V1114.5H483.0V1114.5H483.9V1107.6H484.8V1116.4H485.7V1117.4H486.6V1117.0H487.5V1114.4H488.4V1120.1H489.3V1121.7H490.2V1122.7Z" fill="none" stroke="#000" stroke-width="0.7"/>
<path d="M431.6,1122.7h0.9v-1.7h-0.9zM432.5,1122.7h0.9v-2.0h-0.9zM433.4,1122.7h0.9v-2.4h-0.9zM438.8,1122.7h0.9v-1.4h-0.9zM440.6,1122.7h0.9v-2.8h-0.9zM444.2,1122.7h0.9v-2.4h-0.9zM449.6,1122.7h0.9v-1.7h-0.9zM450.5,1122.7h0.9v-2.8h-0.9zM451.4,1122.7h0.9v-1.7h-0.9zM454.1,1122.7h0.9v-2.0h-0.9zM455.9,1122.7h0.9v-2.0h-0.9zM456.8,1122.7h0.9v-2.8h-0.9zM457.7,1122.7h0.9v-2.4h-0.9zM458.6,1122.7h0.9v-1.4h-0.9zM461.3,1122.7h0.9v-2.4h-0.9zM464.9,1122.7h0.9v-1.4h-0.9zM465.8,1122.7h0.9v-3.3h-0.9zM466.7,1122.7h0.9v-2.8h-0.9zM469.4,1122.7h0.9v-1.7h-0.9zM475.7,1122.7h0.9v-2.8h-0.9zM482.0,1122.7h0.9v-1.7h-0.9zM482.9,1122.7h0.9v-1.7h-0.9zM486.5,1122.7h0.9v-2.4h-0.9zM488.3,1122.7h0.9v-2.0h-0.9zM489.2,1122.7h0.9v-2.0h-0.9zM491.0,1122.7h0.9v-1.7h-0.9zM493.7,1122.7h0.9v-2.0h-0.9zM495.5,1122.7h0.9v-2.8h-0.9zM497.3,1122.7h0.9v-1.4h-0.9zM499.1,1122.7h0.9v-1.4h-0.9zM501.8,1122.7h0.9v-1.4h-0.9zM504.5,1122.7h0.9v-2.4h-0.9z" fill="#000"/>
</g>
<line x1="313.75" y1="1005.00" x2="513.60" y2="1005.00" stroke="#111" stroke-width="1.5" />
<line x1="513.60" y1="1005.00" x2="513.60" y2="1122.70" stroke="#444" stroke-width="1.4" />
<line x1="314.70" y1="1004.25" x2="314.70" y2="1123.65" stroke="#000" stroke-width="1.9" />
<line x1="314.70" y1="1122.70" x2="514.30" y2="1122.70" stroke="#000" stroke-width="1.9" />
<line x1="309.90" y1="1005.00" x2="314.70" y2="1005.00" stroke="#222" stroke-width="1.0" />
<text x="296.00" y="1008.60" font-size="10.8" font-weight="normal" font-style="normal" textLength="11.07" lengthAdjust="spacingAndGlyphs" fill="#1a1a1a" >50</text>
<line x1="312.30" y1="1012.36" x2="314.70" y2="1012.36" stroke="#333" stroke-width="0.9" />
<line x1="312.30" y1="1019.71" x2="314.70" y2="1019.71" stroke="#333" stroke-width="0.9" />
<line x1="312.30" y1="1027.07" x2="314.70" y2="1027.07" stroke="#333" stroke-width="0.9" />
<line x1="309.90" y1="1034.42" x2="314.70" y2="1034.42" stroke="#222" stroke-width="1.0" />
<text x="296.00" y="1038.02" font-size="10.8" font-weight="normal" font-style="normal" textLength="11.12" lengthAdjust="spacingAndGlyphs" fill="#1a1a1a" >38</text>
<line x1="312.30" y1="1041.78" x2="314.70" y2="1041.78" stroke="#333" stroke-width="0.9" />
<line x1="312.30" y1="1049.14" x2="314.70" y2="1049.14" stroke="#333" stroke-width="0.9" />
<line x1="312.30" y1="1056.49" x2="314.70" y2="1056.49" stroke="#333" stroke-width="0.9" />
<line x1="309.90" y1="1063.85" x2="314.70" y2="1063.85" stroke="#222" stroke-width="1.0" />
<text x="295.90" y="1067.45" font-size="10.8" font-weight="normal" font-style="normal" textLength="11.23" lengthAdjust="spacingAndGlyphs" fill="#1a1a1a" >25</text>
<line x1="312.30" y1="1071.21" x2="314.70" y2="1071.21" stroke="#333" stroke-width="0.9" />
<line x1="312.30" y1="1078.56" x2="314.70" y2="1078.56" stroke="#333" stroke-width="0.9" />
<line x1="312.30" y1="1085.92" x2="314.70" y2="1085.92" stroke="#333" stroke-width="0.9" />
<line x1="309.90" y1="1093.28" x2="314.70" y2="1093.28" stroke="#222" stroke-width="1.0" />
<text x="295.62" y="1096.88" font-size="10.8" font-weight="normal" font-style="normal" textLength="11.51" lengthAdjust="spacingAndGlyphs" fill="#1a1a1a" >13</text>
<line x1="312.30" y1="1100.63" x2="314.70" y2="1100.63" stroke="#333" stroke-width="0.9" />
<line x1="312.30" y1="1107.99" x2="314.70" y2="1107.99" stroke="#333" stroke-width="0.9" />
<line x1="312.30" y1="1115.34" x2="314.70" y2="1115.34" stroke="#333" stroke-width="0.9" />
<line x1="309.90" y1="1122.70" x2="314.70" y2="1122.70" stroke="#222" stroke-width="1.0" />
<text x="301.72" y="1126.30" font-size="10.8" font-weight="normal" font-style="normal" textLength="5.33" lengthAdjust="spacingAndGlyphs" fill="#1a1a1a" >0</text>
<line x1="314.70" y1="1122.70" x2="314.70" y2="1127.30" stroke="#222" stroke-width="1.0" />
<text x="303.00" y="1145.00" font-size="11.2" font-weight="normal" font-style="normal" textLength="10.34" lengthAdjust="spacingAndGlyphs" fill="#1a1a1a" >10</text>
<text x="314.02" y="1138.30" font-size="7.8" font-weight="normal" font-style="normal" textLength="3.90" lengthAdjust="spacingAndGlyphs" fill="#1a1a1a" >0</text>
<line x1="325.75" y1="1122.70" x2="325.75" y2="1125.50" stroke="#333" stroke-width="0.9" />
<line x1="332.21" y1="1122.70" x2="332.21" y2="1125.50" stroke="#333" stroke-width="0.9" />
<line x1="336.79" y1="1122.70" x2="336.79" y2="1125.50" stroke="#333" stroke-width="0.9" />
<line x1="340.35" y1="1122.70" x2="340.35" y2="1125.50" stroke="#333" stroke-width="0.9" />
<line x1="343.26" y1="1122.70" x2="343.26" y2="1125.50" stroke="#333" stroke-width="0.9" />
<line x1="345.71" y1="1122.70" x2="345.71" y2="1125.50" stroke="#333" stroke-width="0.9" />
<line x1="347.84" y1="1122.70" x2="347.84" y2="1125.50" stroke="#333" stroke-width="0.9" />
<line x1="349.72" y1="1122.70" x2="349.72" y2="1125.50" stroke="#333" stroke-width="0.9" />
<line x1="351.40" y1="1122.70" x2="351.40" y2="1127.30" stroke="#222" stroke-width="1.0" />
<text x="339.70" y="1145.00" font-size="11.2" font-weight="normal" font-style="normal" textLength="10.34" lengthAdjust="spacingAndGlyphs" fill="#1a1a1a" >10</text>
<text x="350.47" y="1138.30" font-size="7.8" font-weight="normal" font-style="normal" textLength="3.90" lengthAdjust="spacingAndGlyphs" fill="#1a1a1a" >1</text>
<line x1="362.44" y1="1122.70" x2="362.44" y2="1125.50" stroke="#333" stroke-width="0.9" />
<line x1="368.91" y1="1122.70" x2="368.91" y2="1125.50" stroke="#333" stroke-width="0.9" />
<line x1="373.49" y1="1122.70" x2="373.49" y2="1125.50" stroke="#333" stroke-width="0.9" />
<line x1="377.05" y1="1122.70" x2="377.05" y2="1125.50" stroke="#333" stroke-width="0.9" />
<line x1="379.95" y1="1122.70" x2="379.95" y2="1125.50" stroke="#333" stroke-width="0.9" />
<line x1="382.41" y1="1122.70" x2="382.41" y2="1125.50" stroke="#333" stroke-width="0.9" />
<line x1="384.54" y1="1122.70" x2="384.54" y2="1125.50" stroke="#333" stroke-width="0.9" />
<line x1="386.42" y1="1122.70" x2="386.42" y2="1125.50" stroke="#333" stroke-width="0.9" />
<line x1="388.09" y1="1122.70" x2="388.09" y2="1127.30" stroke="#222" stroke-width="1.0" />
<text x="376.40" y="1145.00" font-size="11.2" font-weight="normal" font-style="normal" textLength="10.34" lengthAdjust="spacingAndGlyphs" fill="#1a1a1a" >10</text>
<text x="387.34" y="1138.30" font-size="7.8" font-weight="normal" font-style="normal" textLength="3.90" lengthAdjust="spacingAndGlyphs" fill="#1a1a1a" >2</text>
<line x1="399.14" y1="1122.70" x2="399.14" y2="1125.50" stroke="#333" stroke-width="0.9" />
<line x1="405.60" y1="1122.70" x2="405.60" y2="1125.50" stroke="#333" stroke-width="0.9" />
<line x1="410.19" y1="1122.70" x2="410.19" y2="1125.50" stroke="#333" stroke-width="0.9" />
<line x1="413.75" y1="1122.70" x2="413.75" y2="1125.50" stroke="#333" stroke-width="0.9" />
<line x1="416.65" y1="1122.70" x2="416.65" y2="1125.50" stroke="#333" stroke-width="0.9" />
<line x1="419.11" y1="1122.70" x2="419.11" y2="1125.50" stroke="#333" stroke-width="0.9" />
<line x1="421.24" y1="1122.70" x2="421.24" y2="1125.50" stroke="#333" stroke-width="0.9" />
<line x1="423.11" y1="1122.70" x2="423.11" y2="1125.50" stroke="#333" stroke-width="0.9" />
<line x1="424.79" y1="1122.70" x2="424.79" y2="1127.30" stroke="#222" stroke-width="1.0" />
<text x="413.09" y="1145.00" font-size="11.2" font-weight="normal" font-style="normal" textLength="10.34" lengthAdjust="spacingAndGlyphs" fill="#1a1a1a" >10</text>
<text x="424.11" y="1138.30" font-size="7.8" font-weight="normal" font-style="normal" textLength="3.90" lengthAdjust="spacingAndGlyphs" fill="#1a1a1a" >3</text>
<line x1="435.84" y1="1122.70" x2="435.84" y2="1125.50" stroke="#333" stroke-width="0.9" />
<line x1="442.30" y1="1122.70" x2="442.30" y2="1125.50" stroke="#333" stroke-width="0.9" />
<line x1="446.89" y1="1122.70" x2="446.89" y2="1125.50" stroke="#333" stroke-width="0.9" />
<line x1="450.44" y1="1122.70" x2="450.44" y2="1125.50" stroke="#333" stroke-width="0.9" />
<line x1="453.35" y1="1122.70" x2="453.35" y2="1125.50" stroke="#333" stroke-width="0.9" />
<line x1="455.81" y1="1122.70" x2="455.81" y2="1125.50" stroke="#333" stroke-width="0.9" />
<line x1="457.93" y1="1122.70" x2="457.93" y2="1125.50" stroke="#333" stroke-width="0.9" />
<line x1="459.81" y1="1122.70" x2="459.81" y2="1125.50" stroke="#333" stroke-width="0.9" />
<line x1="461.49" y1="1122.70" x2="461.49" y2="1127.30" stroke="#222" stroke-width="1.0" />
<text x="449.79" y="1145.00" font-size="11.2" font-weight="normal" font-style="normal" textLength="10.34" lengthAdjust="spacingAndGlyphs" fill="#1a1a1a" >10</text>
<text x="460.95" y="1138.30" font-size="7.8" font-weight="normal" font-style="normal" textLength="3.90" lengthAdjust="spacingAndGlyphs" fill="#1a1a1a" >4</text>
<line x1="472.54" y1="1122.70" x2="472.54" y2="1125.50" stroke="#333" stroke-width="0.9" />
<line x1="479.00" y1="1122.70" x2="479.00" y2="1125.50" stroke="#333" stroke-width="0.9" />
<line x1="483.58" y1="1122.70" x2="483.58" y2="1125.50" stroke="#333" stroke-width="0.9" />
<line x1="487.14" y1="1122.70" x2="487.14" y2="1125.50" stroke="#333" stroke-width="0.9" />
<line x1="490.05" y1="1122.70" x2="490.05" y2="1125.50" stroke="#333" stroke-width="0.9" />
<line x1="492.50" y1="1122.70" x2="492.50" y2="1125.50" stroke="#333" stroke-width="0.9" />
<line x1="494.63" y1="1122.70" x2="494.63" y2="1125.50" stroke="#333" stroke-width="0.9" />
<line x1="496.51" y1="1122.70" x2="496.51" y2="1125.50" stroke="#333" stroke-width="0.9" />
<line x1="498.19" y1="1122.70" x2="498.19" y2="1127.30" stroke="#222" stroke-width="1.0" />
<text x="486.49" y="1145.00" font-size="11.2" font-weight="normal" font-style="normal" textLength="10.34" lengthAdjust="spacingAndGlyphs" fill="#1a1a1a" >10</text>
<text x="497.51" y="1138.30" font-size="7.8" font-weight="normal" font-style="normal" textLength="3.90" lengthAdjust="spacingAndGlyphs" fill="#1a1a1a" >5</text>
<line x1="509.23" y1="1122.70" x2="509.23" y2="1125.50" stroke="#333" stroke-width="0.9" />
<text x="326.83" y="1033.10" font-size="15" font-weight="normal" font-style="italic" textLength="85.96" lengthAdjust="spacingAndGlyphs" fill="#000" >RPMI-MR20</text>
<clipPath id="cR4"><rect x="314.7" y="1152.4" width="198.90000000000003" height="116.69999999999982"/></clipPath>
<g clip-path="url(#cR4)">
<path d="M447.0,1269.1V1267.2H447.9V1266.4H448.8V1263.6H449.7V1256.4H450.6V1253.9H451.5V1254.5H452.4V1244.8H453.3V1229.6H454.2V1230.1H455.1V1234.5H456.0V1207.8H456.9V1208.4H457.8V1197.4H458.7V1170.8H459.6V1193.0H460.5V1170.0H461.4V1162.9H462.3V1157.6H463.2V1150.4H464.1V1150.4H465.0V1153.9H465.9V1150.4H466.8V1150.4H467.7V1151.6H468.6V1172.6H469.5V1180.3H470.4V1201.1H471.3V1217.2H472.2V1226.8H473.1V1236.6H474.0V1235.1H474.9V1255.2H475.8V1259.5H476.7V1265.4H477.6V1263.5H478.5V1265.3H479.4V1267.8H480.3V1269.1Z" fill="#000"/>
<path d="M443.0,1269.1V1269.0H443.9V1266.0H444.8V1265.9H445.7V1263.8H446.6V1259.7H447.5V1259.1H448.4V1257.2H449.3V1246.4H450.2V1233.2H451.1V1242.9H452.0V1222.5H452.9V1224.8H453.8V1222.7H454.7V1208.4H455.6V1200.9H456.5V1194.9H457.4V1175.9H458.3V1165.1H459.2V1163.1H460.1V1150.4H461.0V1159.9H461.9V1150.4H462.8V1154.4H463.7V1151.1H464.6V1162.0H465.5V1172.8H466.4V1183.4H467.3V1176.7H468.2V1182.8H469.1V1204.3H470.0V1200.6H470.9V1223.6H471.8V1223.0H472.7V1235.7H473.6V1247.4H474.5V1241.8H475.4V1258.1H476.3V1258.1H477.2V1256.4H478.1V1257.7H479.0V1261.9H479.9V1262.4H480.8V1265.9H481.7V1267.4H482.6V1268.0H483.5V1269.1H484.4V1269.1Z" fill="#6e6e6e"/>
<path d="M447.0,1269.1V1267.2H447.9V1266.4H448.8V1263.6H449.7V1256.4H450.6V1253.9H451.5V1254.5H452.4V1244.8H453.3V1229.6H454.2V1230.1H455.1V1234.5H456.0V1207.8H456.9V1208.4H457.8V1197.4H458.7V1170.8H459.6V1193.0H460.5V1170.0H461.4V1162.9H462.3V1157.6H463.2V1150.4H464.1V1150.4H465.0V1153.9H465.9V1150.4H466.8V1150.4H467.7V1151.6H468.6V1172.6H469.5V1180.3H470.4V1201.1H471.3V1217.2H472.2V1226.8H473.1V1236.6H474.0V1235.1H474.9V1255.2H475.8V1259.5H476.7V1265.4H477.6V1263.5H478.5V1265.3H479.4V1267.8H480.3V1269.1Z" fill="none" stroke="#000" stroke-width="0.7"/>
<path d="M418.0,1269.1h0.9v-1.4h-0.9zM418.9,1269.1h0.9v-3.3h-0.9zM420.7,1269.1h0.9v-1.7h-0.9zM423.4,1269.1h0.9v-3.3h-0.9zM424.3,1269.1h0.9v-1.4h-0.9zM428.8,1269.1h0.9v-1.7h-0.9zM429.7,1269.1h0.9v-2.0h-0.9zM432.4,1269.1h0.9v-2.0h-0.9zM439.6,1269.1h0.9v-1.7h-0.9zM442.3,1269.1h0.9v-1.4h-0.9zM447.7,1269.1h0.9v-2.4h-0.9zM450.4,1269.1h0.9v-2.8h-0.9zM452.2,1269.1h0.9v-1.4h-0.9zM453.1,1269.1h0.9v-1.7h-0.9zM457.6,1269.1h0.9v-3.3h-0.9zM458.5,1269.1h0.9v-1.4h-0.9zM462.1,1269.1h0.9v-1.4h-0.9zM463.9,1269.1h0.9v-1.4h-0.9zM464.8,1269.1h0.9v-2.4h-0.9zM465.7,1269.1h0.9v-1.4h-0.9zM466.6,1269.1h0.9v-2.0h-0.9zM468.4,1269.1h0.9v-2.4h-0.9zM472.0,1269.1h0.9v-1.7h-0.9zM473.8,1269.1h0.9v-2.4h-0.9zM475.6,1269.1h0.9v-1.4h-0.9zM476.5,1269.1h0.9v-2.0h-0.9zM479.2,1269.1h0.9v-2.8h-0.9zM483.7,1269.1h0.9v-3.3h-0.9zM484.6,1269.1h0.9v-2.8h-0.9zM488.2,1269.1h0.9v-1.7h-0.9zM494.5,1269.1h0.9v-2.4h-0.9zM501.7,1269.1h0.9v-3.3h-0.9z" fill="#000"/>
</g>
<line x1="313.75" y1="1152.40" x2="513.60" y2="1152.40" stroke="#111" stroke-width="1.5" />
<line x1="513.60" y1="1152.40" x2="513.60" y2="1269.10" stroke="#444" stroke-width="1.4" />
<line x1="314.70" y1="1151.65" x2="314.70" y2="1270.05" stroke="#000" stroke-width="1.9" />
<line x1="314.70" y1="1269.10" x2="514.30" y2="1269.10" stroke="#000" stroke-width="1.9" />
<line x1="309.90" y1="1152.40" x2="314.70" y2="1152.40" stroke="#222" stroke-width="1.0" />
<text x="296.00" y="1156.00" font-size="10.8" font-weight="normal" font-style="normal" textLength="11.07" lengthAdjust="spacingAndGlyphs" fill="#1a1a1a" >50</text>
<line x1="312.30" y1="1159.69" x2="314.70" y2="1159.69" stroke="#333" stroke-width="0.9" />
<line x1="312.30" y1="1166.99" x2="314.70" y2="1166.99" stroke="#333" stroke-width="0.9" />
<line x1="312.30" y1="1174.28" x2="314.70" y2="1174.28" stroke="#333" stroke-width="0.9" />
<line x1="309.90" y1="1181.58" x2="314.70" y2="1181.58" stroke="#222" stroke-width="1.0" />
<text x="296.00" y="1185.17" font-size="10.8" font-weight="normal" font-style="normal" textLength="11.12" lengthAdjust="spacingAndGlyphs" fill="#1a1a1a" >38</text>
<line x1="312.30" y1="1188.87" x2="314.70" y2="1188.87" stroke="#333" stroke-width="0.9" />
<line x1="312.30" y1="1196.16" x2="314.70" y2="1196.16" stroke="#333" stroke-width="0.9" />
<line x1="312.30" y1="1203.46" x2="314.70" y2="1203.46" stroke="#333" stroke-width="0.9" />
<line x1="309.90" y1="1210.75" x2="314.70" y2="1210.75" stroke="#222" stroke-width="1.0" />
<text x="295.90" y="1214.35" font-size="10.8" font-weight="normal" font-style="normal" textLength="11.23" lengthAdjust="spacingAndGlyphs" fill="#1a1a1a" >25</text>
<line x1="312.30" y1="1218.04" x2="314.70" y2="1218.04" stroke="#333" stroke-width="0.9" />
<line x1="312.30" y1="1225.34" x2="314.70" y2="1225.34" stroke="#333" stroke-width="0.9" />
<line x1="312.30" y1="1232.63" x2="314.70" y2="1232.63" stroke="#333" stroke-width="0.9" />
<line x1="309.90" y1="1239.92" x2="314.70" y2="1239.92" stroke="#222" stroke-width="1.0" />
<text x="295.62" y="1243.52" font-size="10.8" font-weight="normal" font-style="normal" textLength="11.51" lengthAdjust="spacingAndGlyphs" fill="#1a1a1a" >13</text>
<line x1="312.30" y1="1247.22" x2="314.70" y2="1247.22" stroke="#333" stroke-width="0.9" />
<line x1="312.30" y1="1254.51" x2="314.70" y2="1254.51" stroke="#333" stroke-width="0.9" />
<line x1="312.30" y1="1261.81" x2="314.70" y2="1261.81" stroke="#333" stroke-width="0.9" />
<line x1="309.90" y1="1269.10" x2="314.70" y2="1269.10" stroke="#222" stroke-width="1.0" />
<text x="301.72" y="1272.70" font-size="10.8" font-weight="normal" font-style="normal" textLength="5.33" lengthAdjust="spacingAndGlyphs" fill="#1a1a1a" >0</text>
<line x1="314.70" y1="1269.10" x2="314.70" y2="1273.70" stroke="#222" stroke-width="1.0" />
<text x="303.00" y="1291.40" font-size="11.2" font-weight="normal" font-style="normal" textLength="10.34" lengthAdjust="spacingAndGlyphs" fill="#1a1a1a" >10</text>
<text x="314.02" y="1284.70" font-size="7.8" font-weight="normal" font-style="normal" textLength="3.90" lengthAdjust="spacingAndGlyphs" fill="#1a1a1a" >0</text>
<line x1="325.75" y1="1269.10" x2="325.75" y2="1271.90" stroke="#333" stroke-width="0.9" />
<line x1="332.21" y1="1269.10" x2="332.21" y2="1271.90" stroke="#333" stroke-width="0.9" />
<line x1="336.79" y1="1269.10" x2="336.79" y2="1271.90" stroke="#333" stroke-width="0.9" />
<line x1="340.35" y1="1269.10" x2="340.35" y2="1271.90" stroke="#333" stroke-width="0.9" />
<line x1="343.26" y1="1269.10" x2="343.26" y2="1271.90" stroke="#333" stroke-width="0.9" />
<line x1="345.71" y1="1269.10" x2="345.71" y2="1271.90" stroke="#333" stroke-width="0.9" />
<line x1="347.84" y1="1269.10" x2="347.84" y2="1271.90" stroke="#333" stroke-width="0.9" />
<line x1="349.72" y1="1269.10" x2="349.72" y2="1271.90" stroke="#333" stroke-width="0.9" />
<line x1="351.40" y1="1269.10" x2="351.40" y2="1273.70" stroke="#222" stroke-width="1.0" />
<text x="339.70" y="1291.40" font-size="11.2" font-weight="normal" font-style="normal" textLength="10.34" lengthAdjust="spacingAndGlyphs" fill="#1a1a1a" >10</text>
<text x="350.47" y="1284.70" font-size="7.8" font-weight="normal" font-style="normal" textLength="3.90" lengthAdjust="spacingAndGlyphs" fill="#1a1a1a" >1</text>
<line x1="362.44" y1="1269.10" x2="362.44" y2="1271.90" stroke="#333" stroke-width="0.9" />
<line x1="368.91" y1="1269.10" x2="368.91" y2="1271.90" stroke="#333" stroke-width="0.9" />
<line x1="373.49" y1="1269.10" x2="373.49" y2="1271.90" stroke="#333" stroke-width="0.9" />
<line x1="377.05" y1="1269.10" x2="377.05" y2="1271.90" stroke="#333" stroke-width="0.9" />
<line x1="379.95" y1="1269.10" x2="379.95" y2="1271.90" stroke="#333" stroke-width="0.9" />
<line x1="382.41" y1="1269.10" x2="382.41" y2="1271.90" stroke="#333" stroke-width="0.9" />
<line x1="384.54" y1="1269.10" x2="384.54" y2="1271.90" stroke="#333" stroke-width="0.9" />
<line x1="386.42" y1="1269.10" x2="386.42" y2="1271.90" stroke="#333" stroke-width="0.9" />
<line x1="388.09" y1="1269.10" x2="388.09" y2="1273.70" stroke="#222" stroke-width="1.0" />
<text x="376.40" y="1291.40" font-size="11.2" font-weight="normal" font-style="normal" textLength="10.34" lengthAdjust="spacingAndGlyphs" fill="#1a1a1a" >10</text>
<text x="387.34" y="1284.70" font-size="7.8" font-weight="normal" font-style="normal" textLength="3.90" lengthAdjust="spacingAndGlyphs" fill="#1a1a1a" >2</text>
<line x1="399.14" y1="1269.10" x2="399.14" y2="1271.90" stroke="#333" stroke-width="0.9" />
<line x1="405.60" y1="1269.10" x2="405.60" y2="1271.90" stroke="#333" stroke-width="0.9" />
<line x1="410.19" y1="1269.10" x2="410.19" y2="1271.90" stroke="#333" stroke-width="0.9" />
<line x1="413.75" y1="1269.10" x2="413.75" y2="1271.90" stroke="#333" stroke-width="0.9" />
<line x1="416.65" y1="1269.10" x2="416.65" y2="1271.90" stroke="#333" stroke-width="0.9" />
<line x1="419.11" y1="1269.10" x2="419.11" y2="1271.90" stroke="#333" stroke-width="0.9" />
<line x1="421.24" y1="1269.10" x2="421.24" y2="1271.90" stroke="#333" stroke-width="0.9" />
<line x1="423.11" y1="1269.10" x2="423.11" y2="1271.90" stroke="#333" stroke-width="0.9" />
<line x1="424.79" y1="1269.10" x2="424.79" y2="1273.70" stroke="#222" stroke-width="1.0" />
<text x="413.09" y="1291.40" font-size="11.2" font-weight="normal" font-style="normal" textLength="10.34" lengthAdjust="spacingAndGlyphs" fill="#1a1a1a" >10</text>
<text x="424.11" y="1284.70" font-size="7.8" font-weight="normal" font-style="normal" textLength="3.90" lengthAdjust="spacingAndGlyphs" fill="#1a1a1a" >3</text>
<line x1="435.84" y1="1269.10" x2="435.84" y2="1271.90" stroke="#333" stroke-width="0.9" />
<line x1="442.30" y1="1269.10" x2="442.30" y2="1271.90" stroke="#333" stroke-width="0.9" />
<line x1="446.89" y1="1269.10" x2="446.89" y2="1271.90" stroke="#333" stroke-width="0.9" />
<line x1="450.44" y1="1269.10" x2="450.44" y2="1271.90" stroke="#333" stroke-width="0.9" />
<line x1="453.35" y1="1269.10" x2="453.35" y2="1271.90" stroke="#333" stroke-width="0.9" />
<line x1="455.81" y1="1269.10" x2="455.81" y2="1271.90" stroke="#333" stroke-width="0.9" />
<line x1="457.93" y1="1269.10" x2="457.93" y2="1271.90" stroke="#333" stroke-width="0.9" />
<line x1="459.81" y1="1269.10" x2="459.81" y2="1271.90" stroke="#333" stroke-width="0.9" />
<line x1="461.49" y1="1269.10" x2="461.49" y2="1273.70" stroke="#222" stroke-width="1.0" />
<text x="449.79" y="1291.40" font-size="11.2" font-weight="normal" font-style="normal" textLength="10.34" lengthAdjust="spacingAndGlyphs" fill="#1a1a1a" >10</text>
<text x="460.95" y="1284.70" font-size="7.8" font-weight="normal" font-style="normal" textLength="3.90" lengthAdjust="spacingAndGlyphs" fill="#1a1a1a" >4</text>
<line x1="472.54" y1="1269.10" x2="472.54" y2="1271.90" stroke="#333" stroke-width="0.9" />
<line x1="479.00" y1="1269.10" x2="479.00" y2="1271.90" stroke="#333" stroke-width="0.9" />
<line x1="483.58" y1="1269.10" x2="483.58" y2="1271.90" stroke="#333" stroke-width="0.9" />
<line x1="487.14" y1="1269.10" x2="487.14" y2="1271.90" stroke="#333" stroke-width="0.9" />
<line x1="490.05" y1="1269.10" x2="490.05" y2="1271.90" stroke="#333" stroke-width="0.9" />
<line x1="492.50" y1="1269.10" x2="492.50" y2="1271.90" stroke="#333" stroke-width="0.9" />
<line x1="494.63" y1="1269.10" x2="494.63" y2="1271.90" stroke="#333" stroke-width="0.9" />
<line x1="496.51" y1="1269.10" x2="496.51" y2="1271.90" stroke="#333" stroke-width="0.9" />
<line x1="498.19" y1="1269.10" x2="498.19" y2="1273.70" stroke="#222" stroke-width="1.0" />
<text x="486.49" y="1291.40" font-size="11.2" font-weight="normal" font-style="normal" textLength="10.34" lengthAdjust="spacingAndGlyphs" fill="#1a1a1a" >10</text>
<text x="497.51" y="1284.70" font-size="7.8" font-weight="normal" font-style="normal" textLength="3.90" lengthAdjust="spacingAndGlyphs" fill="#1a1a1a" >5</text>
<line x1="509.23" y1="1269.10" x2="509.23" y2="1271.90" stroke="#333" stroke-width="0.9" />
<text x="326.83" y="1177.60" font-size="15" font-weight="normal" font-style="italic" textLength="90.54" lengthAdjust="spacingAndGlyphs" fill="#000" >RPMI-Dox40</text>
<text transform="translate(40.70,851.64) rotate(-90)" x="0" y="0" font-size="16" font-weight="bold" font-style="normal" textLength="158.95" lengthAdjust="spacing" fill="#000">cell number</text>
<text x="91.40" y="1309.30" font-size="15" font-weight="normal" font-style="normal" textLength="151.61" lengthAdjust="spacing" fill="#000" stroke="#000" stroke-width="0.08">Rhodamine 123</text>
<text x="351.10" y="1309.20" font-size="15" font-weight="normal" font-style="normal" textLength="122.69" lengthAdjust="spacing" fill="#000" stroke="#000" stroke-width="0.08">Mitoxantrone</text>
</svg>
</body></html>
